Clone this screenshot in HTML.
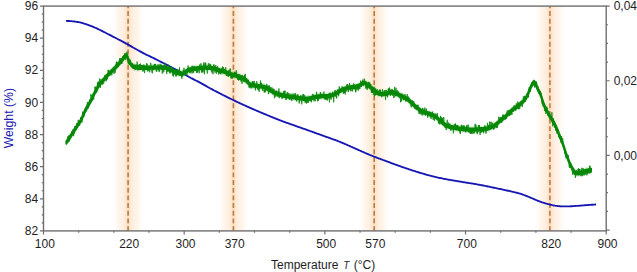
<!DOCTYPE html><html><head><meta charset="utf-8"><style>html,body{margin:0;padding:0;background:#fff;}svg{display:block;}text{font-family:"Liberation Sans",sans-serif;}</style></head><body>
<svg width="637" height="272" viewBox="0 0 637 272">
<defs><linearGradient id="band" x1="0" x2="1" y1="0" y2="0"><stop offset="0.0000" stop-color="#ffffff"/><stop offset="0.0667" stop-color="#fffcf9"/><stop offset="0.1333" stop-color="#fff9f3"/><stop offset="0.2167" stop-color="#fff4ea"/><stop offset="0.3167" stop-color="#fff0e2"/><stop offset="0.4000" stop-color="#feebd8"/><stop offset="0.4500" stop-color="#fde4c9"/><stop offset="0.5000" stop-color="#fddcb9"/><stop offset="0.5500" stop-color="#fde4c9"/><stop offset="0.6000" stop-color="#feebd8"/><stop offset="0.6833" stop-color="#fff0e2"/><stop offset="0.7833" stop-color="#fff4ea"/><stop offset="0.8667" stop-color="#fff9f3"/><stop offset="0.9333" stop-color="#fffcf9"/><stop offset="1.0000" stop-color="#ffffff"/></linearGradient><clipPath id="pc"><rect x="43.50" y="6.10" width="562.70" height="224.80"/></clipPath></defs>
<rect width="637" height="272" fill="#fff"/>
<rect x="113.10" y="6.10" width="30.00" height="224.80" fill="url(#band)"/>
<rect x="218.40" y="6.10" width="30.00" height="224.80" fill="url(#band)"/>
<rect x="359.20" y="6.10" width="30.00" height="224.80" fill="url(#band)"/>
<rect x="534.90" y="6.10" width="30.00" height="224.80" fill="url(#band)"/>
<line x1="128.10" y1="6.10" x2="128.10" y2="230.90" stroke="#b57d4a" stroke-width="1.6" stroke-dasharray="4.9 2.78" stroke-dashoffset="2.68"/>
<line x1="233.40" y1="6.10" x2="233.40" y2="230.90" stroke="#b57d4a" stroke-width="1.6" stroke-dasharray="4.9 2.78" stroke-dashoffset="2.68"/>
<line x1="374.20" y1="6.10" x2="374.20" y2="230.90" stroke="#b57d4a" stroke-width="1.6" stroke-dasharray="4.9 2.78" stroke-dashoffset="2.68"/>
<line x1="549.90" y1="6.10" x2="549.90" y2="230.90" stroke="#b57d4a" stroke-width="1.6" stroke-dasharray="4.9 2.78" stroke-dashoffset="2.68"/>
<path d="M66.00 20.90 66.70 20.93 67.67 20.96 68.83 21.00 70.13 21.08 71.50 21.20 72.40 21.30 73.38 21.41 74.41 21.53 75.48 21.66 76.56 21.82 77.66 21.99 78.74 22.18 79.80 22.40 80.84 22.64 81.88 22.91 82.92 23.21 83.96 23.52 84.99 23.85 86.03 24.19 87.07 24.54 88.10 24.90 89.13 25.27 90.15 25.65 91.18 26.04 92.20 26.45 93.22 26.87 94.25 27.30 95.27 27.74 96.30 28.20 97.22 28.62 98.14 29.05 99.06 29.50 99.98 29.96 100.91 30.42 101.83 30.89 102.75 31.36 103.68 31.83 104.60 32.30 105.52 32.77 106.45 33.24 107.37 33.72 108.29 34.20 109.22 34.68 110.14 35.17 111.06 35.65 111.98 36.13 112.90 36.60 113.82 37.07 114.76 37.55 115.70 38.03 116.64 38.51 117.57 38.98 118.49 39.45 119.39 39.91 120.26 40.36 121.10 40.80 122.12 41.34 123.08 41.85 124.00 42.35 124.91 42.85 125.81 43.35 126.73 43.86 127.70 44.40 128.56 44.89 129.41 45.38 130.27 45.88 131.14 46.39 132.03 46.91 132.97 47.45 133.95 48.01 135.00 48.60 135.82 49.05 136.69 49.54 137.61 50.04 138.56 50.56 139.53 51.09 140.51 51.62 141.47 52.14 142.42 52.65 143.33 53.13 144.19 53.58 145.00 54.00 146.15 54.57 147.18 55.07 148.15 55.51 149.07 55.93 150.00 56.35 150.96 56.80 152.00 57.30 152.85 57.72 153.71 58.16 154.59 58.60 155.47 59.06 156.38 59.53 157.30 60.01 158.25 60.50 159.21 60.99 160.20 61.50 161.03 61.92 161.88 62.35 162.74 62.79 163.62 63.24 164.51 63.69 165.41 64.15 166.32 64.61 167.24 65.08 168.16 65.55 169.08 66.02 170.00 66.50 170.93 66.98 171.87 67.47 172.81 67.96 173.77 68.46 174.73 68.97 175.69 69.47 176.65 69.98 177.61 70.49 178.55 70.99 179.48 71.50 180.40 72.00 181.30 72.50 182.19 73.01 183.07 73.51 183.93 74.02 184.80 74.52 185.65 75.03 186.51 75.53 187.37 76.03 188.24 76.52 189.12 77.02 190.00 77.50 190.89 77.98 191.79 78.44 192.70 78.91 193.61 79.36 194.52 79.82 195.43 80.27 196.35 80.73 197.26 81.18 198.18 81.65 199.09 82.12 200.00 82.60 200.91 83.09 201.82 83.59 202.73 84.10 203.64 84.61 204.55 85.13 205.45 85.65 206.36 86.16 207.27 86.68 208.18 87.19 209.09 87.70 210.00 88.20 210.89 88.69 211.75 89.15 212.59 89.61 213.43 90.06 214.26 90.51 215.12 90.97 216.00 91.43 216.91 91.91 217.88 92.41 218.90 92.94 220.00 93.50 220.80 93.91 221.64 94.33 222.50 94.76 223.40 95.21 224.32 95.67 225.26 96.14 226.22 96.62 227.19 97.10 228.17 97.58 229.16 98.07 230.14 98.55 231.13 99.04 232.12 99.51 233.09 99.98 234.05 100.45 235.00 100.90 235.94 101.35 236.88 101.79 237.81 102.23 238.75 102.67 239.69 103.11 240.62 103.55 241.56 103.98 242.50 104.41 243.44 104.84 244.38 105.27 245.31 105.70 246.25 106.12 247.19 106.54 248.12 106.96 249.06 107.38 250.00 107.80 250.94 108.21 251.88 108.63 252.81 109.04 253.75 109.44 254.69 109.85 255.62 110.25 256.56 110.65 257.50 111.05 258.44 111.45 259.38 111.84 260.31 112.24 261.25 112.63 262.19 113.03 263.12 113.42 264.06 113.81 265.00 114.20 265.94 114.59 266.88 114.98 267.81 115.37 268.75 115.76 269.69 116.15 270.62 116.54 271.56 116.93 272.50 117.31 273.44 117.70 274.38 118.08 275.31 118.46 276.25 118.83 277.19 119.20 278.12 119.57 279.06 119.94 280.00 120.30 281.00 120.68 282.00 121.06 283.00 121.43 284.00 121.79 285.00 122.16 286.00 122.52 287.00 122.87 288.00 123.23 289.00 123.58 290.00 123.93 291.00 124.29 292.00 124.64 293.00 124.99 294.00 125.34 295.00 125.70 296.00 126.06 297.00 126.41 298.00 126.76 299.00 127.12 300.00 127.47 301.00 127.82 302.00 128.17 303.00 128.53 304.00 128.88 305.00 129.23 306.00 129.58 307.00 129.94 308.00 130.29 309.00 130.64 310.00 131.00 311.00 131.36 312.00 131.71 313.00 132.07 314.00 132.43 315.00 132.79 316.00 133.15 317.00 133.51 318.00 133.87 319.00 134.23 320.00 134.59 321.00 134.95 322.00 135.31 323.00 135.67 324.00 136.04 325.00 136.40 326.00 136.76 327.00 137.12 328.00 137.48 329.00 137.83 330.00 138.19 331.00 138.54 332.00 138.90 333.00 139.26 334.00 139.62 335.00 139.99 336.00 140.36 337.00 140.73 338.00 141.12 339.00 141.50 340.00 141.90 340.94 142.28 341.88 142.66 342.81 143.06 343.75 143.45 344.69 143.85 345.62 144.26 346.56 144.67 347.50 145.08 348.44 145.50 349.38 145.91 350.31 146.33 351.25 146.74 352.19 147.16 353.12 147.58 354.06 147.99 355.00 148.40 355.94 148.81 356.88 149.23 357.81 149.64 358.75 150.06 359.69 150.49 360.62 150.91 361.56 151.33 362.50 151.75 363.44 152.17 364.38 152.59 365.31 153.00 366.25 153.41 367.19 153.82 368.12 154.22 369.06 154.61 370.00 155.00 370.94 155.38 371.88 155.76 372.81 156.13 373.75 156.49 374.69 156.85 375.62 157.21 376.56 157.57 377.50 157.92 378.44 158.27 379.38 158.62 380.31 158.96 381.25 159.31 382.19 159.66 383.12 160.00 384.06 160.35 385.00 160.70 386.01 161.08 387.04 161.46 388.08 161.85 389.13 162.24 390.19 162.63 391.24 163.02 392.29 163.40 393.33 163.78 394.36 164.16 395.37 164.53 396.36 164.89 397.32 165.24 398.25 165.57 399.15 165.89 400.00 166.20 401.20 166.63 402.32 167.02 403.37 167.38 404.36 167.72 405.31 168.04 406.24 168.36 407.16 168.66 408.08 168.97 409.02 169.28 410.00 169.60 411.00 169.93 412.00 170.26 413.00 170.59 414.00 170.91 415.00 171.24 416.00 171.56 417.00 171.88 418.00 172.19 419.00 172.50 420.00 172.80 421.00 173.10 422.00 173.39 423.00 173.68 424.00 173.97 425.00 174.25 426.00 174.53 427.00 174.80 428.00 175.07 429.00 175.34 430.00 175.60 431.00 175.86 432.00 176.11 433.00 176.37 434.00 176.61 435.00 176.86 436.00 177.10 437.00 177.33 438.00 177.56 439.00 177.78 440.00 178.00 441.00 178.21 442.00 178.42 443.00 178.61 444.00 178.81 445.00 178.99 446.00 179.18 447.00 179.36 448.00 179.54 449.00 179.72 450.00 179.90 451.00 180.08 452.00 180.25 453.00 180.43 454.00 180.60 455.00 180.77 456.00 180.94 457.00 181.10 458.00 181.27 459.00 181.43 460.00 181.60 461.00 181.76 462.00 181.92 463.00 182.08 464.00 182.24 465.00 182.40 466.00 182.56 467.00 182.72 468.00 182.88 469.00 183.04 470.00 183.20 471.00 183.36 472.00 183.53 473.00 183.69 474.00 183.86 475.00 184.02 476.00 184.19 477.00 184.36 478.00 184.54 479.00 184.72 480.00 184.90 481.00 185.09 482.00 185.28 483.00 185.47 484.00 185.67 485.00 185.88 486.00 186.08 487.00 186.28 488.00 186.49 489.00 186.69 490.00 186.90 491.00 187.11 492.00 187.31 493.00 187.52 494.00 187.73 495.00 187.94 496.00 188.15 497.00 188.36 498.00 188.57 499.00 188.79 500.00 189.00 501.00 189.22 502.00 189.43 503.00 189.65 504.00 189.86 505.00 190.08 506.00 190.30 507.00 190.52 508.00 190.75 509.00 190.97 510.00 191.20 511.00 191.43 512.00 191.64 513.00 191.86 514.00 192.08 515.00 192.30 516.00 192.53 517.00 192.77 518.00 193.03 519.00 193.30 520.00 193.60 521.00 193.92 522.00 194.26 523.00 194.62 524.00 195.00 525.00 195.39 526.00 195.78 527.00 196.19 528.00 196.59 529.00 197.00 530.00 197.40 531.00 197.81 532.00 198.23 533.00 198.67 534.00 199.11 535.00 199.55 536.00 199.99 537.00 200.42 538.00 200.83 539.00 201.23 540.00 201.60 541.02 201.96 542.06 202.31 543.13 202.64 544.19 202.97 545.25 203.29 546.29 203.59 547.29 203.87 548.26 204.13 549.16 204.38 550.00 204.60 551.22 204.91 552.26 205.16 553.19 205.35 554.07 205.51 554.99 205.66 556.00 205.80 556.95 205.92 557.93 206.04 558.93 206.14 559.95 206.22 560.97 206.30 561.99 206.36 563.00 206.40 563.99 206.43 564.97 206.43 565.95 206.43 566.93 206.41 567.93 206.38 568.95 206.34 570.00 206.30 570.95 206.26 571.91 206.21 572.88 206.15 573.88 206.09 574.88 206.02 575.91 205.95 576.95 205.87 578.00 205.80 578.96 205.73 579.93 205.66 580.93 205.58 581.93 205.50 582.95 205.42 583.96 205.33 584.98 205.25 585.99 205.17 587.00 205.10 588.05 205.03 589.17 204.95 590.33 204.87 591.49 204.79 592.62 204.72 593.67 204.65 594.60 204.59 595.40 204.54 596.00 204.50" fill="none" stroke="#1616b2" stroke-width="1.85" stroke-linejoin="round" stroke-linecap="butt"/>
<path d="M66.2 138.7 66.7 138.1 67.2 137.5 67.7 136.9 68.2 136.2 68.7 135.5 69.2 134.7 69.7 133.9 70.2 133.1 70.7 132.3 71.2 131.5 71.7 130.7 72.2 129.9 72.7 129.2 73.2 128.4 73.7 127.6 74.2 126.8 74.7 126.0 75.2 125.3 75.7 124.5 76.2 123.8 76.7 123.0 77.2 122.3 77.7 121.5 78.2 120.7 78.7 120.0 79.2 119.3 79.7 118.5 80.2 117.7 80.7 116.9 81.2 116.0 81.7 115.0 82.2 113.9 82.7 112.6 83.2 111.4 83.7 110.2 84.2 109.0 84.7 107.7 85.2 106.6 85.7 105.6 86.2 104.8 86.7 103.9 87.2 103.1 87.7 102.3 88.2 101.5 88.7 100.7 89.2 99.9 89.7 99.0 90.2 98.2 90.7 97.3 91.2 96.4 91.7 95.4 92.2 94.2 92.7 93.0 93.2 91.8 93.7 90.8 94.2 89.9 94.7 89.0 95.2 88.1 95.7 87.3 96.2 86.4 96.7 85.5 97.2 84.5 97.7 83.5 98.2 82.6 98.7 81.8 99.2 81.1 99.7 80.4 100.2 79.8 100.7 79.2 101.2 78.6 101.7 78.1 102.2 77.5 102.7 77.0 103.2 76.4 103.7 75.9 104.2 75.3 104.7 74.7 105.2 74.1 105.7 73.5 106.2 73.0 106.7 72.4 107.2 71.8 107.7 71.3 108.2 70.8 108.7 70.3 109.2 69.8 109.7 69.3 110.2 68.8 110.7 68.3 111.2 67.8 111.7 67.3 112.2 66.8 112.7 66.3 113.2 65.8 113.7 65.3 114.2 64.8 114.7 64.4 115.2 63.9 115.7 63.4 116.2 62.9 116.7 62.4 117.2 61.9 117.7 61.4 118.2 60.9 118.7 60.3 119.2 59.8 119.7 59.2 120.2 58.6 120.7 58.0 121.2 57.4 121.7 56.8 122.2 56.2 122.7 55.5 123.2 54.9 123.7 54.2 124.2 53.6 124.7 52.9 125.2 52.2 125.7 51.7 126.2 51.5 126.7 52.0 127.2 52.9 127.7 54.0 128.2 55.2 128.7 56.5 129.2 57.8 129.7 58.7 130.2 59.5 130.7 60.2 131.2 60.8 131.7 61.3 132.2 61.8 132.7 62.2 133.2 62.5 133.7 62.9 134.2 63.1 134.7 63.3 135.2 63.5 135.7 63.6 136.2 63.7 136.7 63.7 137.2 63.8 137.7 63.9 138.2 63.9 138.7 63.9 139.2 63.9 139.7 64.0 140.2 64.0 140.7 64.0 141.2 64.0 141.7 64.0 142.2 64.0 142.7 64.0 143.2 64.0 143.7 64.0 144.2 64.0 144.7 64.0 145.2 63.9 145.7 63.9 146.2 63.9 146.7 63.9 147.2 63.9 147.7 63.9 148.2 63.8 148.7 63.8 149.2 63.8 149.7 63.8 150.2 63.8 150.7 63.8 151.2 63.8 151.7 63.8 152.2 63.8 152.7 63.8 153.2 63.8 153.7 63.8 154.2 63.8 154.7 63.8 155.2 63.8 155.7 63.8 156.2 63.8 156.7 63.8 157.2 63.8 157.7 63.8 158.2 63.8 158.7 63.8 159.2 63.8 159.7 63.8 160.2 63.7 160.7 63.7 161.2 63.7 161.7 63.7 162.2 63.7 162.7 63.7 163.2 63.7 163.7 63.7 164.2 63.7 164.7 63.8 165.2 63.8 165.7 63.9 166.2 64.1 166.7 64.3 167.2 64.5 167.7 64.8 168.2 65.1 168.7 65.3 169.2 65.5 169.7 65.7 170.2 65.9 170.7 66.1 171.2 66.4 171.7 66.6 172.2 66.8 172.7 67.0 173.2 67.3 173.7 67.5 174.2 67.7 174.7 68.0 175.2 68.2 175.7 68.4 176.2 68.6 176.7 68.8 177.2 69.0 177.7 69.2 178.2 69.3 178.7 69.5 179.2 69.6 179.7 69.8 180.2 69.9 180.7 70.0 181.2 70.0 181.7 70.0 182.2 70.0 182.7 69.9 183.2 69.8 183.7 69.6 184.2 69.3 184.7 69.0 185.2 68.6 185.7 68.1 186.2 67.7 186.7 67.3 187.2 66.9 187.7 66.6 188.2 66.4 188.7 66.2 189.2 66.0 189.7 65.8 190.2 65.7 190.7 65.5 191.2 65.4 191.7 65.2 192.2 65.1 192.7 65.0 193.2 64.9 193.7 64.9 194.2 64.9 194.7 64.8 195.2 64.8 195.7 64.7 196.2 64.7 196.7 64.6 197.2 64.6 197.7 64.5 198.2 64.5 198.7 64.4 199.2 64.4 199.7 64.3 200.2 64.2 200.7 64.2 201.2 64.1 201.7 64.1 202.2 64.0 202.7 64.0 203.2 63.9 203.7 63.9 204.2 63.8 204.7 63.8 205.2 63.8 205.7 63.8 206.2 63.8 206.7 63.8 207.2 63.9 207.7 63.9 208.2 63.9 208.7 64.0 209.2 64.0 209.7 64.1 210.2 64.1 210.7 64.2 211.2 64.2 211.7 64.3 212.2 64.4 212.7 64.4 213.2 64.5 213.7 64.6 214.2 64.7 214.7 64.9 215.2 65.0 215.7 65.2 216.2 65.4 216.7 65.6 217.2 65.8 217.7 66.0 218.2 66.2 218.7 66.4 219.2 66.5 219.7 66.7 220.2 66.8 220.7 67.0 221.2 67.1 221.7 67.2 222.2 67.4 222.7 67.5 223.2 67.6 223.7 67.8 224.2 67.9 224.7 68.1 225.2 68.3 225.7 68.4 226.2 68.6 226.7 68.8 227.2 69.0 227.7 69.2 228.2 69.4 228.7 69.6 229.2 69.8 229.7 70.0 230.2 70.2 230.7 70.4 231.2 70.5 231.7 70.7 232.2 70.9 232.7 71.0 233.2 71.2 233.7 71.3 234.2 71.4 234.7 71.6 235.2 71.7 235.7 71.8 236.2 71.9 236.7 72.1 237.2 72.2 237.7 72.3 238.2 72.5 238.7 72.6 239.2 72.8 239.7 73.0 240.2 73.2 240.7 73.4 241.2 73.6 241.7 73.9 242.2 74.1 242.7 74.4 243.2 74.7 243.7 75.1 244.2 75.4 244.7 75.8 245.2 76.1 245.7 76.5 246.2 77.0 246.7 77.4 247.2 78.0 247.7 78.5 248.2 79.0 248.7 79.5 249.2 79.9 249.7 80.3 250.2 80.6 250.7 80.9 251.2 81.1 251.7 81.2 252.2 81.4 252.7 81.5 253.2 81.6 253.7 81.7 254.2 81.8 254.7 81.8 255.2 81.9 255.7 82.0 256.2 82.1 256.7 82.1 257.2 82.2 257.7 82.2 258.2 82.3 258.7 82.3 259.2 82.4 259.7 82.5 260.2 82.5 260.7 82.6 261.2 82.7 261.7 82.7 262.2 82.8 262.7 82.9 263.2 83.0 263.7 83.1 264.2 83.2 264.7 83.4 265.2 83.6 265.7 83.8 266.2 84.1 266.7 84.4 267.2 84.7 267.7 85.0 268.2 85.4 268.7 85.7 269.2 86.0 269.7 86.3 270.2 86.6 270.7 86.9 271.2 87.1 271.7 87.4 272.2 87.6 272.7 87.9 273.2 88.1 273.7 88.3 274.2 88.6 274.7 88.8 275.2 89.0 275.7 89.2 276.2 89.4 276.7 89.6 277.2 89.8 277.7 90.0 278.2 90.2 278.7 90.4 279.2 90.6 279.7 90.7 280.2 90.9 280.7 91.0 281.2 91.1 281.7 91.3 282.2 91.4 282.7 91.5 283.2 91.7 283.7 91.8 284.2 91.9 284.7 92.0 285.2 92.1 285.7 92.2 286.2 92.3 286.7 92.4 287.2 92.5 287.7 92.6 288.2 92.7 288.7 92.8 289.2 92.9 289.7 93.0 290.2 93.0 290.7 93.1 291.2 93.2 291.7 93.2 292.2 93.3 292.7 93.3 293.2 93.4 293.7 93.4 294.2 93.5 294.7 93.6 295.2 93.6 295.7 93.7 296.2 93.8 296.7 93.9 297.2 94.0 297.7 94.0 298.2 94.1 298.7 94.2 299.2 94.3 299.7 94.4 300.2 94.5 300.7 94.6 301.2 94.6 301.7 94.7 302.2 94.8 302.7 94.8 303.2 94.9 303.7 95.0 304.2 95.0 304.7 95.0 305.2 95.0 305.7 95.0 306.2 95.0 306.7 94.9 307.2 94.9 307.7 94.8 308.2 94.8 308.7 94.7 309.2 94.6 309.7 94.6 310.2 94.5 310.7 94.4 311.2 94.2 311.7 94.1 312.2 94.0 312.7 93.8 313.2 93.7 313.7 93.5 314.2 93.4 314.7 93.3 315.2 93.2 315.7 93.1 316.2 93.0 316.7 92.9 317.2 92.8 317.7 92.8 318.2 92.7 318.7 92.6 319.2 92.6 319.7 92.5 320.2 92.5 320.7 92.4 321.2 92.4 321.7 92.4 322.2 92.3 322.7 92.3 323.2 92.3 323.7 92.3 324.2 92.3 324.7 92.3 325.2 92.3 325.7 92.4 326.2 92.4 326.7 92.4 327.2 92.4 327.7 92.4 328.2 92.4 328.7 92.4 329.2 92.3 329.7 92.2 330.2 92.1 330.7 92.0 331.2 91.8 331.7 91.6 332.2 91.4 332.7 91.2 333.2 91.0 333.7 90.8 334.2 90.5 334.7 90.2 335.2 90.0 335.7 89.7 336.2 89.4 336.7 89.1 337.2 88.8 337.7 88.5 338.2 88.2 338.7 87.9 339.2 87.6 339.7 87.3 340.2 87.0 340.7 86.7 341.2 86.4 341.7 86.2 342.2 85.9 342.7 85.7 343.2 85.5 343.7 85.4 344.2 85.2 344.7 85.0 345.2 84.8 345.7 84.7 346.2 84.5 346.7 84.4 347.2 84.3 347.7 84.1 348.2 84.0 348.7 83.9 349.2 83.8 349.7 83.7 350.2 83.7 350.7 83.6 351.2 83.6 351.7 83.5 352.2 83.5 352.7 83.5 353.2 83.4 353.7 83.4 354.2 83.3 354.7 83.2 355.2 83.1 355.7 83.0 356.2 82.9 356.7 82.7 357.2 82.5 357.7 82.4 358.2 82.2 358.7 82.0 359.2 81.7 359.7 81.5 360.2 81.2 360.7 80.9 361.2 80.5 361.7 80.2 362.2 79.9 362.7 79.6 363.2 79.4 363.7 79.2 364.2 79.1 364.7 79.1 365.2 79.2 365.7 79.5 366.2 79.8 366.7 80.2 367.2 80.6 367.7 81.0 368.2 81.5 368.7 81.9 369.2 82.4 369.7 82.8 370.2 83.3 370.7 83.7 371.2 84.0 371.7 84.4 372.2 84.8 372.7 85.2 373.2 85.6 373.7 85.9 374.2 86.3 374.7 86.7 375.2 87.1 375.7 87.6 376.2 88.0 376.7 88.5 377.2 88.9 377.7 89.2 378.2 89.5 378.7 89.7 379.2 89.8 379.7 89.9 380.2 90.0 380.7 90.1 381.2 90.1 381.7 90.2 382.2 90.2 382.7 90.2 383.2 90.2 383.7 90.2 384.2 90.2 384.7 90.1 385.2 90.1 385.7 90.0 386.2 89.9 386.7 89.7 387.2 89.6 387.7 89.4 388.2 89.2 388.7 89.0 389.2 88.8 389.7 88.6 390.2 88.5 390.7 88.4 391.2 88.3 391.7 88.3 392.2 88.3 392.7 88.4 393.2 88.6 393.7 88.7 394.2 88.9 394.7 89.1 395.2 89.3 395.7 89.5 396.2 89.8 396.7 90.0 397.2 90.3 397.7 90.5 398.2 90.7 398.7 90.9 399.2 91.1 399.7 91.4 400.2 91.6 400.7 91.8 401.2 92.1 401.7 92.3 402.2 92.6 402.7 92.8 403.2 93.1 403.7 93.4 404.2 93.7 404.7 93.9 405.2 94.2 405.7 94.5 406.2 94.8 406.7 95.1 407.2 95.4 407.7 95.8 408.2 96.2 408.7 96.6 409.2 97.0 409.7 97.5 410.2 98.0 410.7 98.5 411.2 99.0 411.7 99.4 412.2 99.9 412.7 100.3 413.2 100.7 413.7 101.2 414.2 101.6 414.7 102.0 415.2 102.4 415.7 102.8 416.2 103.2 416.7 103.6 417.2 104.0 417.7 104.4 418.2 104.8 418.7 105.2 419.2 105.6 419.7 106.0 420.2 106.4 420.7 106.7 421.2 107.1 421.7 107.4 422.2 107.7 422.7 107.9 423.2 108.2 423.7 108.4 424.2 108.6 424.7 108.7 425.2 108.9 425.7 109.0 426.2 109.1 426.7 109.2 427.2 109.3 427.7 109.4 428.2 109.6 428.7 109.7 429.2 109.8 429.7 110.0 430.2 110.2 430.7 110.4 431.2 110.6 431.7 110.8 432.2 111.1 432.7 111.3 433.2 111.6 433.7 111.8 434.2 112.1 434.7 112.4 435.2 112.7 435.7 113.0 436.2 113.3 436.7 113.7 437.2 114.1 437.7 114.6 438.2 115.1 438.7 115.6 439.2 116.1 439.7 116.5 440.2 117.0 440.7 117.4 441.2 117.9 441.7 118.3 442.2 118.8 442.7 119.2 443.2 119.6 443.7 120.0 444.2 120.4 444.7 120.7 445.2 121.0 445.7 121.3 446.2 121.6 446.7 121.8 447.2 122.1 447.7 122.3 448.2 122.5 448.7 122.7 449.2 122.8 449.7 123.0 450.2 123.1 450.7 123.3 451.2 123.4 451.7 123.5 452.2 123.6 452.7 123.7 453.2 123.8 453.7 123.9 454.2 124.0 454.7 124.1 455.2 124.2 455.7 124.3 456.2 124.4 456.7 124.5 457.2 124.5 457.7 124.6 458.2 124.7 458.7 124.8 459.2 124.8 459.7 124.9 460.2 125.0 460.7 125.1 461.2 125.1 461.7 125.2 462.2 125.2 462.7 125.3 463.2 125.4 463.7 125.4 464.2 125.5 464.7 125.5 465.2 125.5 465.7 125.6 466.2 125.6 466.7 125.6 467.2 125.7 467.7 125.7 468.2 125.7 468.7 125.7 469.2 125.7 469.7 125.8 470.2 125.8 470.7 125.8 471.2 125.8 471.7 125.8 472.2 125.8 472.7 125.8 473.2 125.8 473.7 125.8 474.2 125.8 474.7 125.8 475.2 125.8 475.7 125.8 476.2 125.8 476.7 125.7 477.2 125.7 477.7 125.7 478.2 125.7 478.7 125.6 479.2 125.6 479.7 125.6 480.2 125.5 480.7 125.5 481.2 125.5 481.7 125.5 482.2 125.4 482.7 125.4 483.2 125.4 483.7 125.4 484.2 125.3 484.7 125.3 485.2 125.2 485.7 125.2 486.2 125.1 486.7 125.0 487.2 124.9 487.7 124.7 488.2 124.6 488.7 124.4 489.2 124.3 489.7 124.1 490.2 123.8 490.7 123.6 491.2 123.4 491.7 123.1 492.2 122.9 492.7 122.6 493.2 122.3 493.7 122.0 494.2 121.7 494.7 121.4 495.2 121.0 495.7 120.7 496.2 120.3 496.7 119.9 497.2 119.5 497.7 119.1 498.2 118.7 498.7 118.2 499.2 117.8 499.7 117.4 500.2 116.9 500.7 116.5 501.2 116.1 501.7 115.7 502.2 115.3 502.7 115.0 503.2 114.6 503.7 114.2 504.2 113.8 504.7 113.4 505.2 112.9 505.7 112.5 506.2 112.0 506.7 111.6 507.2 111.1 507.7 110.6 508.2 110.0 508.7 109.5 509.2 109.0 509.7 108.5 510.2 108.0 510.7 107.5 511.2 107.0 511.7 106.6 512.2 106.1 512.7 105.8 513.2 105.4 513.7 105.1 514.2 104.7 514.7 104.4 515.2 104.1 515.7 103.8 516.2 103.5 516.7 103.2 517.2 102.8 517.7 102.5 518.2 102.1 518.7 101.7 519.2 101.3 519.7 100.8 520.2 100.4 520.7 99.9 521.2 99.5 521.7 99.0 522.2 98.5 522.7 98.1 523.2 97.6 523.7 97.0 524.2 96.5 524.7 95.9 525.2 95.2 525.7 94.5 526.2 93.7 526.7 92.8 527.2 91.8 527.7 90.7 528.2 89.5 528.7 88.2 529.2 86.9 529.7 85.7 530.2 84.5 530.7 83.5 531.2 82.5 531.7 81.5 532.2 80.6 532.7 79.8 533.2 79.0 533.7 78.5 534.2 78.5 534.7 79.0 535.2 79.7 535.7 80.6 536.2 81.6 536.7 82.7 537.2 83.9 537.7 85.0 538.2 86.1 538.7 87.1 539.2 88.0 539.7 89.0 540.2 90.0 540.7 91.2 541.2 92.6 541.7 94.1 542.2 95.8 542.7 97.3 543.2 98.8 543.7 100.2 544.2 101.4 544.7 102.6 545.2 103.6 545.7 104.6 546.2 105.6 546.7 106.6 547.2 107.5 547.7 108.5 548.2 109.4 548.7 110.3 549.2 111.2 549.7 112.1 550.2 112.9 550.7 113.8 551.2 114.6 551.7 115.4 552.2 116.2 552.7 117.0 553.2 117.8 553.7 118.7 554.2 119.5 554.7 120.4 555.2 121.4 555.7 122.4 556.2 123.5 556.7 124.7 557.2 125.9 557.7 127.1 558.2 128.4 558.7 129.7 559.2 131.0 559.7 132.2 560.2 133.4 560.7 134.7 561.2 135.9 561.7 137.2 562.2 138.5 562.7 139.8 563.2 141.2 563.7 142.6 564.2 144.2 564.7 145.7 565.2 147.3 565.7 148.9 566.2 150.4 566.7 151.7 567.2 153.1 567.7 154.4 568.2 155.7 568.7 156.9 569.2 158.1 569.7 159.4 570.2 160.5 570.7 161.6 571.2 162.7 571.7 163.6 572.2 164.4 572.7 165.2 573.2 166.0 573.7 166.8 574.2 167.5 574.7 168.1 575.2 168.6 575.7 169.0 576.2 169.3 576.7 169.5 577.2 169.6 577.7 169.6 578.2 169.6 578.7 169.5 579.2 169.4 579.7 169.3 580.2 169.1 580.7 169.0 581.2 168.8 581.7 168.6 582.2 168.4 582.7 168.2 583.2 168.0 583.7 167.8 584.2 167.7 584.7 167.5 585.2 167.4 585.7 167.2 586.2 167.1 586.7 167.0 587.2 166.9 587.7 166.8 588.2 166.7 588.7 166.5 589.2 166.4 589.7 166.3 590.2 166.3 590.7 166.2 591.2 166.1 591.2 173.7 590.7 173.8 590.2 173.9 589.7 173.9 589.2 174.0 588.7 174.1 588.2 174.3 587.7 174.4 587.2 174.5 586.7 174.6 586.2 174.7 585.7 174.8 585.2 175.0 584.7 175.1 584.2 175.3 583.7 175.4 583.2 175.6 582.7 175.8 582.2 176.0 581.7 176.2 581.2 176.4 580.7 176.6 580.2 176.7 579.7 176.9 579.2 177.0 578.7 177.1 578.2 177.2 577.7 177.2 577.2 177.2 576.7 177.1 576.2 176.9 575.7 176.6 575.2 176.2 574.7 175.7 574.2 175.1 573.7 174.4 573.2 173.6 572.7 172.8 572.2 172.0 571.7 171.2 571.2 170.3 570.7 169.2 570.2 168.1 569.7 167.0 569.2 165.7 568.7 164.5 568.2 163.3 567.7 162.0 567.2 160.7 566.7 159.3 566.2 158.0 565.7 156.5 565.2 154.9 564.7 153.3 564.2 151.8 563.7 150.2 563.2 148.8 562.7 147.4 562.2 146.1 561.7 144.8 561.2 143.5 560.7 142.3 560.2 141.0 559.7 139.8 559.2 138.6 558.7 137.3 558.2 136.0 557.7 134.7 557.2 133.5 556.7 132.3 556.2 131.1 555.7 130.0 555.2 129.0 554.7 128.0 554.2 127.1 553.7 126.3 553.2 125.4 552.7 124.6 552.2 123.8 551.7 123.0 551.2 122.2 550.7 121.4 550.2 120.5 549.7 119.7 549.2 118.8 548.7 117.9 548.2 117.0 547.7 116.1 547.2 115.1 546.7 114.2 546.2 113.2 545.7 112.2 545.2 111.2 544.7 110.2 544.2 109.0 543.7 107.8 543.2 106.4 542.7 104.9 542.2 103.4 541.7 101.7 541.2 100.2 540.7 98.8 540.2 97.6 539.7 96.6 539.2 95.6 538.7 94.7 538.2 93.7 537.7 92.6 537.2 91.5 536.7 90.3 536.2 89.2 535.7 88.2 535.2 87.3 534.7 86.6 534.2 86.1 533.7 86.1 533.2 86.6 532.7 87.4 532.2 88.2 531.7 89.1 531.2 90.1 530.7 91.1 530.2 92.1 529.7 93.3 529.2 94.5 528.7 95.8 528.2 97.1 527.7 98.3 527.2 99.4 526.7 100.4 526.2 101.3 525.7 102.1 525.2 102.8 524.7 103.5 524.2 104.1 523.7 104.6 523.2 105.2 522.7 105.7 522.2 106.1 521.7 106.6 521.2 107.1 520.7 107.5 520.2 108.0 519.7 108.4 519.2 108.9 518.7 109.3 518.2 109.7 517.7 110.1 517.2 110.4 516.7 110.8 516.2 111.1 515.7 111.4 515.2 111.7 514.7 112.0 514.2 112.3 513.7 112.7 513.2 113.0 512.7 113.4 512.2 113.7 511.7 114.2 511.2 114.6 510.7 115.1 510.2 115.6 509.7 116.1 509.2 116.6 508.7 117.1 508.2 117.6 507.7 118.2 507.2 118.7 506.7 119.2 506.2 119.6 505.7 120.1 505.2 120.5 504.7 121.0 504.2 121.4 503.7 121.8 503.2 122.2 502.7 122.6 502.2 122.9 501.7 123.3 501.2 123.7 500.7 124.1 500.2 124.5 499.7 125.0 499.2 125.4 498.7 125.8 498.2 126.3 497.7 126.7 497.2 127.1 496.7 127.5 496.2 127.9 495.7 128.3 495.2 128.6 494.7 129.0 494.2 129.3 493.7 129.6 493.2 129.9 492.7 130.2 492.2 130.5 491.7 130.7 491.2 131.0 490.7 131.2 490.2 131.4 489.7 131.7 489.2 131.9 488.7 132.0 488.2 132.2 487.7 132.3 487.2 132.5 486.7 132.6 486.2 132.7 485.7 132.8 485.2 132.8 484.7 132.9 484.2 132.9 483.7 133.0 483.2 133.0 482.7 133.0 482.2 133.0 481.7 133.1 481.2 133.1 480.7 133.1 480.2 133.1 479.7 133.2 479.2 133.2 478.7 133.2 478.2 133.3 477.7 133.3 477.2 133.3 476.7 133.3 476.2 133.4 475.7 133.4 475.2 133.4 474.7 133.4 474.2 133.4 473.7 133.4 473.2 133.4 472.7 133.4 472.2 133.4 471.7 133.4 471.2 133.4 470.7 133.4 470.2 133.4 469.7 133.4 469.2 133.3 468.7 133.3 468.2 133.3 467.7 133.3 467.2 133.3 466.7 133.2 466.2 133.2 465.7 133.2 465.2 133.1 464.7 133.1 464.2 133.1 463.7 133.0 463.2 133.0 462.7 132.9 462.2 132.8 461.7 132.8 461.2 132.7 460.7 132.7 460.2 132.6 459.7 132.5 459.2 132.4 458.7 132.4 458.2 132.3 457.7 132.2 457.2 132.1 456.7 132.1 456.2 132.0 455.7 131.9 455.2 131.8 454.7 131.7 454.2 131.6 453.7 131.5 453.2 131.4 452.7 131.3 452.2 131.2 451.7 131.1 451.2 131.0 450.7 130.9 450.2 130.7 449.7 130.6 449.2 130.4 448.7 130.3 448.2 130.1 447.7 129.9 447.2 129.7 446.7 129.4 446.2 129.2 445.7 128.9 445.2 128.6 444.7 128.3 444.2 128.0 443.7 127.6 443.2 127.2 442.7 126.8 442.2 126.4 441.7 125.9 441.2 125.5 440.7 125.0 440.2 124.6 439.7 124.1 439.2 123.7 438.7 123.2 438.2 122.7 437.7 122.2 437.2 121.7 436.7 121.3 436.2 120.9 435.7 120.6 435.2 120.3 434.7 120.0 434.2 119.7 433.7 119.4 433.2 119.2 432.7 118.9 432.2 118.7 431.7 118.4 431.2 118.2 430.7 118.0 430.2 117.8 429.7 117.6 429.2 117.4 428.7 117.3 428.2 117.2 427.7 117.0 427.2 116.9 426.7 116.8 426.2 116.7 425.7 116.6 425.2 116.5 424.7 116.3 424.2 116.2 423.7 116.0 423.2 115.8 422.7 115.5 422.2 115.3 421.7 115.0 421.2 114.7 420.7 114.3 420.2 114.0 419.7 113.6 419.2 113.2 418.7 112.8 418.2 112.4 417.7 112.0 417.2 111.6 416.7 111.2 416.2 110.8 415.7 110.4 415.2 110.0 414.7 109.6 414.2 109.2 413.7 108.8 413.2 108.3 412.7 107.9 412.2 107.5 411.7 107.0 411.2 106.6 410.7 106.1 410.2 105.6 409.7 105.1 409.2 104.6 408.7 104.2 408.2 103.8 407.7 103.4 407.2 103.0 406.7 102.7 406.2 102.4 405.7 102.1 405.2 101.8 404.7 101.5 404.2 101.3 403.7 101.0 403.2 100.7 402.7 100.4 402.2 100.2 401.7 99.9 401.2 99.7 400.7 99.4 400.2 99.2 399.7 99.0 399.2 98.7 398.7 98.5 398.2 98.3 397.7 98.1 397.2 97.9 396.7 97.6 396.2 97.4 395.7 97.1 395.2 96.9 394.7 96.7 394.2 96.5 393.7 96.3 393.2 96.2 392.7 96.0 392.2 95.9 391.7 95.9 391.2 95.9 390.7 96.0 390.2 96.1 389.7 96.2 389.2 96.4 388.7 96.6 388.2 96.8 387.7 97.0 387.2 97.2 386.7 97.3 386.2 97.5 385.7 97.6 385.2 97.7 384.7 97.7 384.2 97.8 383.7 97.8 383.2 97.8 382.7 97.8 382.2 97.8 381.7 97.8 381.2 97.7 380.7 97.7 380.2 97.6 379.7 97.5 379.2 97.4 378.7 97.3 378.2 97.1 377.7 96.8 377.2 96.5 376.7 96.1 376.2 95.6 375.7 95.2 375.2 94.7 374.7 94.3 374.2 93.9 373.7 93.5 373.2 93.2 372.7 92.8 372.2 92.4 371.7 92.0 371.2 91.6 370.7 91.3 370.2 90.9 369.7 90.4 369.2 90.0 368.7 89.5 368.2 89.1 367.7 88.6 367.2 88.2 366.7 87.8 366.2 87.4 365.7 87.1 365.2 86.8 364.7 86.7 364.2 86.7 363.7 86.8 363.2 87.0 362.7 87.2 362.2 87.5 361.7 87.8 361.2 88.1 360.7 88.5 360.2 88.8 359.7 89.1 359.2 89.3 358.7 89.6 358.2 89.8 357.7 90.0 357.2 90.1 356.7 90.3 356.2 90.5 355.7 90.6 355.2 90.7 354.7 90.8 354.2 90.9 353.7 91.0 353.2 91.0 352.7 91.1 352.2 91.1 351.7 91.1 351.2 91.2 350.7 91.2 350.2 91.3 349.7 91.3 349.2 91.4 348.7 91.5 348.2 91.6 347.7 91.7 347.2 91.9 346.7 92.0 346.2 92.1 345.7 92.3 345.2 92.4 344.7 92.6 344.2 92.8 343.7 93.0 343.2 93.1 342.7 93.3 342.2 93.5 341.7 93.8 341.2 94.0 340.7 94.3 340.2 94.6 339.7 94.9 339.2 95.2 338.7 95.5 338.2 95.8 337.7 96.1 337.2 96.4 336.7 96.7 336.2 97.0 335.7 97.3 335.2 97.6 334.7 97.8 334.2 98.1 333.7 98.4 333.2 98.6 332.7 98.8 332.2 99.0 331.7 99.2 331.2 99.4 330.7 99.6 330.2 99.7 329.7 99.8 329.2 99.9 328.7 100.0 328.2 100.0 327.7 100.0 327.2 100.0 326.7 100.0 326.2 100.0 325.7 100.0 325.2 99.9 324.7 99.9 324.2 99.9 323.7 99.9 323.2 99.9 322.7 99.9 322.2 99.9 321.7 100.0 321.2 100.0 320.7 100.0 320.2 100.1 319.7 100.1 319.2 100.2 318.7 100.2 318.2 100.3 317.7 100.4 317.2 100.4 316.7 100.5 316.2 100.6 315.7 100.7 315.2 100.8 314.7 100.9 314.2 101.0 313.7 101.1 313.2 101.3 312.7 101.4 312.2 101.6 311.7 101.7 311.2 101.8 310.7 102.0 310.2 102.1 309.7 102.2 309.2 102.2 308.7 102.3 308.2 102.4 307.7 102.4 307.2 102.5 306.7 102.5 306.2 102.6 305.7 102.6 305.2 102.6 304.7 102.6 304.2 102.6 303.7 102.6 303.2 102.5 302.7 102.4 302.2 102.4 301.7 102.3 301.2 102.2 300.7 102.2 300.2 102.1 299.7 102.0 299.2 101.9 298.7 101.8 298.2 101.7 297.7 101.6 297.2 101.6 296.7 101.5 296.2 101.4 295.7 101.3 295.2 101.2 294.7 101.2 294.2 101.1 293.7 101.0 293.2 101.0 292.7 100.9 292.2 100.9 291.7 100.8 291.2 100.8 290.7 100.7 290.2 100.6 289.7 100.6 289.2 100.5 288.7 100.4 288.2 100.3 287.7 100.2 287.2 100.1 286.7 100.0 286.2 99.9 285.7 99.8 285.2 99.7 284.7 99.6 284.2 99.5 283.7 99.4 283.2 99.3 282.7 99.1 282.2 99.0 281.7 98.9 281.2 98.7 280.7 98.6 280.2 98.5 279.7 98.3 279.2 98.2 278.7 98.0 278.2 97.8 277.7 97.6 277.2 97.4 276.7 97.2 276.2 97.0 275.7 96.8 275.2 96.6 274.7 96.4 274.2 96.2 273.7 95.9 273.2 95.7 272.7 95.5 272.2 95.2 271.7 95.0 271.2 94.7 270.7 94.5 270.2 94.2 269.7 93.9 269.2 93.6 268.7 93.3 268.2 93.0 267.7 92.6 267.2 92.3 266.7 92.0 266.2 91.7 265.7 91.4 265.2 91.2 264.7 91.0 264.2 90.8 263.7 90.7 263.2 90.6 262.7 90.5 262.2 90.4 261.7 90.3 261.2 90.3 260.7 90.2 260.2 90.1 259.7 90.1 259.2 90.0 258.7 89.9 258.2 89.9 257.7 89.8 257.2 89.8 256.7 89.7 256.2 89.7 255.7 89.6 255.2 89.5 254.7 89.4 254.2 89.4 253.7 89.3 253.2 89.2 252.7 89.1 252.2 89.0 251.7 88.8 251.2 88.7 250.7 88.5 250.2 88.2 249.7 87.9 249.2 87.5 248.7 87.1 248.2 86.6 247.7 86.1 247.2 85.6 246.7 85.0 246.2 84.6 245.7 84.1 245.2 83.7 244.7 83.4 244.2 83.0 243.7 82.7 243.2 82.3 242.7 82.0 242.2 81.7 241.7 81.5 241.2 81.2 240.7 81.0 240.2 80.8 239.7 80.6 239.2 80.4 238.7 80.2 238.2 80.1 237.7 79.9 237.2 79.8 236.7 79.7 236.2 79.5 235.7 79.4 235.2 79.3 234.7 79.2 234.2 79.0 233.7 78.9 233.2 78.8 232.7 78.6 232.2 78.5 231.7 78.3 231.2 78.1 230.7 78.0 230.2 77.8 229.7 77.6 229.2 77.4 228.7 77.2 228.2 77.0 227.7 76.8 227.2 76.6 226.7 76.4 226.2 76.2 225.7 76.0 225.2 75.9 224.7 75.7 224.2 75.5 223.7 75.4 223.2 75.2 222.7 75.1 222.2 75.0 221.7 74.8 221.2 74.7 220.7 74.6 220.2 74.4 219.7 74.3 219.2 74.1 218.7 74.0 218.2 73.8 217.7 73.6 217.2 73.4 216.7 73.2 216.2 73.0 215.7 72.8 215.2 72.6 214.7 72.5 214.2 72.3 213.7 72.2 213.2 72.1 212.7 72.0 212.2 72.0 211.7 71.9 211.2 71.8 210.7 71.8 210.2 71.7 209.7 71.7 209.2 71.6 208.7 71.6 208.2 71.5 207.7 71.5 207.2 71.5 206.7 71.4 206.2 71.4 205.7 71.4 205.2 71.4 204.7 71.4 204.2 71.4 203.7 71.5 203.2 71.5 202.7 71.6 202.2 71.6 201.7 71.7 201.2 71.7 200.7 71.8 200.2 71.8 199.7 71.9 199.2 72.0 198.7 72.0 198.2 72.1 197.7 72.1 197.2 72.2 196.7 72.2 196.2 72.3 195.7 72.3 195.2 72.4 194.7 72.4 194.2 72.5 193.7 72.5 193.2 72.5 192.7 72.6 192.2 72.7 191.7 72.8 191.2 73.0 190.7 73.1 190.2 73.3 189.7 73.4 189.2 73.6 188.7 73.8 188.2 74.0 187.7 74.2 187.2 74.5 186.7 74.9 186.2 75.3 185.7 75.7 185.2 76.2 184.7 76.6 184.2 76.9 183.7 77.2 183.2 77.4 182.7 77.5 182.2 77.6 181.7 77.6 181.2 77.6 180.7 77.6 180.2 77.5 179.7 77.4 179.2 77.2 178.7 77.1 178.2 76.9 177.7 76.8 177.2 76.6 176.7 76.4 176.2 76.2 175.7 76.0 175.2 75.8 174.7 75.6 174.2 75.3 173.7 75.1 173.2 74.9 172.7 74.6 172.2 74.4 171.7 74.2 171.2 74.0 170.7 73.7 170.2 73.5 169.7 73.3 169.2 73.1 168.7 72.9 168.2 72.7 167.7 72.4 167.2 72.1 166.7 71.9 166.2 71.7 165.7 71.5 165.2 71.4 164.7 71.4 164.2 71.3 163.7 71.3 163.2 71.3 162.7 71.3 162.2 71.3 161.7 71.3 161.2 71.3 160.7 71.3 160.2 71.3 159.7 71.4 159.2 71.4 158.7 71.4 158.2 71.4 157.7 71.4 157.2 71.4 156.7 71.4 156.2 71.4 155.7 71.4 155.2 71.4 154.7 71.4 154.2 71.4 153.7 71.4 153.2 71.4 152.7 71.4 152.2 71.4 151.7 71.4 151.2 71.4 150.7 71.4 150.2 71.4 149.7 71.4 149.2 71.4 148.7 71.4 148.2 71.4 147.7 71.5 147.2 71.5 146.7 71.5 146.2 71.5 145.7 71.5 145.2 71.5 144.7 71.6 144.2 71.6 143.7 71.6 143.2 71.6 142.7 71.6 142.2 71.6 141.7 71.6 141.2 71.6 140.7 71.6 140.2 71.6 139.7 71.6 139.2 71.5 138.7 71.5 138.2 71.5 137.7 71.5 137.2 71.4 136.7 71.3 136.2 71.3 135.7 71.2 135.2 71.1 134.7 70.9 134.2 70.7 133.7 70.5 133.2 70.1 132.7 69.8 132.2 69.4 131.7 68.9 131.2 68.4 130.7 67.8 130.2 67.1 129.7 66.3 129.2 65.4 128.7 64.1 128.2 62.8 127.7 61.6 127.2 60.5 126.7 59.6 126.2 59.1 125.7 59.3 125.2 59.8 124.7 60.5 124.2 61.2 123.7 61.8 123.2 62.5 122.7 63.1 122.2 63.8 121.7 64.4 121.2 65.0 120.7 65.6 120.2 66.2 119.7 66.8 119.2 67.4 118.7 67.9 118.2 68.5 117.7 69.0 117.2 69.5 116.7 70.0 116.2 70.5 115.7 71.0 115.2 71.5 114.7 72.0 114.2 72.4 113.7 72.9 113.2 73.4 112.7 73.9 112.2 74.4 111.7 74.9 111.2 75.4 110.7 75.9 110.2 76.4 109.7 76.9 109.2 77.4 108.7 77.9 108.2 78.4 107.7 78.9 107.2 79.4 106.7 80.0 106.2 80.6 105.7 81.1 105.2 81.7 104.7 82.3 104.2 82.9 103.7 83.5 103.2 84.0 102.7 84.6 102.2 85.1 101.7 85.7 101.2 86.2 100.7 86.8 100.2 87.4 99.7 88.0 99.2 88.7 98.7 89.4 98.2 90.2 97.7 91.1 97.2 92.1 96.7 93.1 96.2 94.0 95.7 94.9 95.2 95.7 94.7 96.6 94.2 97.5 93.7 98.4 93.2 99.4 92.7 100.6 92.2 101.8 91.7 103.0 91.2 104.0 90.7 104.9 90.2 105.8 89.7 106.6 89.2 107.5 88.7 108.3 88.2 109.1 87.7 109.9 87.2 110.7 86.7 111.5 86.2 112.4 85.7 113.2 85.2 114.2 84.7 115.3 84.2 116.6 83.7 117.8 83.2 119.0 82.7 120.2 82.2 121.5 81.7 122.6 81.2 123.6 80.7 124.5 80.2 125.3 79.7 126.1 79.2 126.9 78.7 127.6 78.2 128.3 77.7 129.1 77.2 129.9 76.7 130.6 76.2 131.4 75.7 132.1 75.2 132.9 74.7 133.6 74.2 134.4 73.7 135.2 73.2 136.0 72.7 136.8 72.2 137.5 71.7 138.3 71.2 139.1 70.7 139.9 70.2 140.7 69.7 141.5 69.2 142.3 68.7 143.1 68.2 143.8 67.7 144.5 67.2 145.1 66.7 145.7 66.2 146.3Z" fill="#078807" fill-opacity="0.15"/>
<path d="M66.2 141.1 66.7 140.5 67.2 139.9 67.7 139.3 68.2 138.6 68.7 137.9 69.2 137.1 69.7 136.3 70.2 135.5 70.7 134.7 71.2 133.9 71.7 133.1 72.2 132.3 72.7 131.6 73.2 130.8 73.7 130.0 74.2 129.2 74.7 128.4 75.2 127.7 75.7 126.9 76.2 126.2 76.7 125.4 77.2 124.7 77.7 123.9 78.2 123.1 78.7 122.4 79.2 121.7 79.7 120.9 80.2 120.1 80.7 119.3 81.2 118.4 81.7 117.4 82.2 116.3 82.7 115.0 83.2 113.8 83.7 112.6 84.2 111.4 84.7 110.1 85.2 109.0 85.7 108.0 86.2 107.2 86.7 106.3 87.2 105.5 87.7 104.7 88.2 103.9 88.7 103.1 89.2 102.3 89.7 101.4 90.2 100.6 90.7 99.7 91.2 98.8 91.7 97.8 92.2 96.6 92.7 95.4 93.2 94.2 93.7 93.2 94.2 92.3 94.7 91.4 95.2 90.5 95.7 89.7 96.2 88.8 96.7 87.9 97.2 86.9 97.7 85.9 98.2 85.0 98.7 84.2 99.2 83.5 99.7 82.8 100.2 82.2 100.7 81.6 101.2 81.0 101.7 80.5 102.2 79.9 102.7 79.4 103.2 78.8 103.7 78.3 104.2 77.7 104.7 77.1 105.2 76.5 105.7 75.9 106.2 75.4 106.7 74.8 107.2 74.2 107.7 73.7 108.2 73.2 108.7 72.7 109.2 72.2 109.7 71.7 110.2 71.2 110.7 70.7 111.2 70.2 111.7 69.7 112.2 69.2 112.7 68.7 113.2 68.2 113.7 67.7 114.2 67.2 114.7 66.8 115.2 66.3 115.7 65.8 116.2 65.3 116.7 64.8 117.2 64.3 117.7 63.8 118.2 63.3 118.7 62.7 119.2 62.2 119.7 61.6 120.2 61.0 120.7 60.4 121.2 59.8 121.7 59.2 122.2 58.6 122.7 57.9 123.2 57.3 123.7 56.6 124.2 56.0 124.7 55.3 125.2 54.6 125.7 54.1 126.2 53.9 126.7 54.4 127.2 55.3 127.7 56.4 128.2 57.6 128.7 58.9 129.2 60.2 129.7 61.1 130.2 61.9 130.7 62.6 131.2 63.2 131.7 63.7 132.2 64.2 132.7 64.6 133.2 64.9 133.7 65.3 134.2 65.5 134.7 65.7 135.2 65.9 135.7 66.0 136.2 66.1 136.7 66.1 137.2 66.2 137.7 66.3 138.2 66.3 138.7 66.3 139.2 66.3 139.7 66.4 140.2 66.4 140.7 66.4 141.2 66.4 141.7 66.4 142.2 66.4 142.7 66.4 143.2 66.4 143.7 66.4 144.2 66.4 144.7 66.4 145.2 66.3 145.7 66.3 146.2 66.3 146.7 66.3 147.2 66.3 147.7 66.3 148.2 66.2 148.7 66.2 149.2 66.2 149.7 66.2 150.2 66.2 150.7 66.2 151.2 66.2 151.7 66.2 152.2 66.2 152.7 66.2 153.2 66.2 153.7 66.2 154.2 66.2 154.7 66.2 155.2 66.2 155.7 66.2 156.2 66.2 156.7 66.2 157.2 66.2 157.7 66.2 158.2 66.2 158.7 66.2 159.2 66.2 159.7 66.2 160.2 66.1 160.7 66.1 161.2 66.1 161.7 66.1 162.2 66.1 162.7 66.1 163.2 66.1 163.7 66.1 164.2 66.1 164.7 66.2 165.2 66.2 165.7 66.3 166.2 66.5 166.7 66.7 167.2 66.9 167.7 67.2 168.2 67.5 168.7 67.7 169.2 67.9 169.7 68.1 170.2 68.3 170.7 68.5 171.2 68.8 171.7 69.0 172.2 69.2 172.7 69.4 173.2 69.7 173.7 69.9 174.2 70.1 174.7 70.4 175.2 70.6 175.7 70.8 176.2 71.0 176.7 71.2 177.2 71.4 177.7 71.6 178.2 71.7 178.7 71.9 179.2 72.0 179.7 72.2 180.2 72.3 180.7 72.4 181.2 72.4 181.7 72.4 182.2 72.4 182.7 72.3 183.2 72.2 183.7 72.0 184.2 71.7 184.7 71.4 185.2 71.0 185.7 70.5 186.2 70.1 186.7 69.7 187.2 69.3 187.7 69.0 188.2 68.8 188.7 68.6 189.2 68.4 189.7 68.2 190.2 68.1 190.7 67.9 191.2 67.8 191.7 67.6 192.2 67.5 192.7 67.4 193.2 67.3 193.7 67.3 194.2 67.3 194.7 67.2 195.2 67.2 195.7 67.1 196.2 67.1 196.7 67.0 197.2 67.0 197.7 66.9 198.2 66.9 198.7 66.8 199.2 66.8 199.7 66.7 200.2 66.6 200.7 66.6 201.2 66.5 201.7 66.5 202.2 66.4 202.7 66.4 203.2 66.3 203.7 66.3 204.2 66.2 204.7 66.2 205.2 66.2 205.7 66.2 206.2 66.2 206.7 66.2 207.2 66.3 207.7 66.3 208.2 66.3 208.7 66.4 209.2 66.4 209.7 66.5 210.2 66.5 210.7 66.6 211.2 66.6 211.7 66.7 212.2 66.8 212.7 66.8 213.2 66.9 213.7 67.0 214.2 67.1 214.7 67.3 215.2 67.4 215.7 67.6 216.2 67.8 216.7 68.0 217.2 68.2 217.7 68.4 218.2 68.6 218.7 68.8 219.2 68.9 219.7 69.1 220.2 69.2 220.7 69.4 221.2 69.5 221.7 69.6 222.2 69.8 222.7 69.9 223.2 70.0 223.7 70.2 224.2 70.3 224.7 70.5 225.2 70.7 225.7 70.8 226.2 71.0 226.7 71.2 227.2 71.4 227.7 71.6 228.2 71.8 228.7 72.0 229.2 72.2 229.7 72.4 230.2 72.6 230.7 72.8 231.2 72.9 231.7 73.1 232.2 73.3 232.7 73.4 233.2 73.6 233.7 73.7 234.2 73.8 234.7 74.0 235.2 74.1 235.7 74.2 236.2 74.3 236.7 74.5 237.2 74.6 237.7 74.7 238.2 74.9 238.7 75.0 239.2 75.2 239.7 75.4 240.2 75.6 240.7 75.8 241.2 76.0 241.7 76.3 242.2 76.5 242.7 76.8 243.2 77.1 243.7 77.5 244.2 77.8 244.7 78.2 245.2 78.5 245.7 78.9 246.2 79.4 246.7 79.8 247.2 80.4 247.7 80.9 248.2 81.4 248.7 81.9 249.2 82.3 249.7 82.7 250.2 83.0 250.7 83.3 251.2 83.5 251.7 83.6 252.2 83.8 252.7 83.9 253.2 84.0 253.7 84.1 254.2 84.2 254.7 84.2 255.2 84.3 255.7 84.4 256.2 84.5 256.7 84.5 257.2 84.6 257.7 84.6 258.2 84.7 258.7 84.7 259.2 84.8 259.7 84.9 260.2 84.9 260.7 85.0 261.2 85.1 261.7 85.1 262.2 85.2 262.7 85.3 263.2 85.4 263.7 85.5 264.2 85.6 264.7 85.8 265.2 86.0 265.7 86.2 266.2 86.5 266.7 86.8 267.2 87.1 267.7 87.4 268.2 87.8 268.7 88.1 269.2 88.4 269.7 88.7 270.2 89.0 270.7 89.3 271.2 89.5 271.7 89.8 272.2 90.0 272.7 90.3 273.2 90.5 273.7 90.7 274.2 91.0 274.7 91.2 275.2 91.4 275.7 91.6 276.2 91.8 276.7 92.0 277.2 92.2 277.7 92.4 278.2 92.6 278.7 92.8 279.2 93.0 279.7 93.1 280.2 93.3 280.7 93.4 281.2 93.5 281.7 93.7 282.2 93.8 282.7 93.9 283.2 94.1 283.7 94.2 284.2 94.3 284.7 94.4 285.2 94.5 285.7 94.6 286.2 94.7 286.7 94.8 287.2 94.9 287.7 95.0 288.2 95.1 288.7 95.2 289.2 95.3 289.7 95.4 290.2 95.4 290.7 95.5 291.2 95.6 291.7 95.6 292.2 95.7 292.7 95.7 293.2 95.8 293.7 95.8 294.2 95.9 294.7 96.0 295.2 96.0 295.7 96.1 296.2 96.2 296.7 96.3 297.2 96.4 297.7 96.4 298.2 96.5 298.7 96.6 299.2 96.7 299.7 96.8 300.2 96.9 300.7 97.0 301.2 97.0 301.7 97.1 302.2 97.2 302.7 97.2 303.2 97.3 303.7 97.4 304.2 97.4 304.7 97.4 305.2 97.4 305.7 97.4 306.2 97.4 306.7 97.3 307.2 97.3 307.7 97.2 308.2 97.2 308.7 97.1 309.2 97.0 309.7 97.0 310.2 96.9 310.7 96.8 311.2 96.6 311.7 96.5 312.2 96.4 312.7 96.2 313.2 96.1 313.7 95.9 314.2 95.8 314.7 95.7 315.2 95.6 315.7 95.5 316.2 95.4 316.7 95.3 317.2 95.2 317.7 95.2 318.2 95.1 318.7 95.0 319.2 95.0 319.7 94.9 320.2 94.9 320.7 94.8 321.2 94.8 321.7 94.8 322.2 94.7 322.7 94.7 323.2 94.7 323.7 94.7 324.2 94.7 324.7 94.7 325.2 94.7 325.7 94.8 326.2 94.8 326.7 94.8 327.2 94.8 327.7 94.8 328.2 94.8 328.7 94.8 329.2 94.7 329.7 94.6 330.2 94.5 330.7 94.4 331.2 94.2 331.7 94.0 332.2 93.8 332.7 93.6 333.2 93.4 333.7 93.2 334.2 92.9 334.7 92.6 335.2 92.4 335.7 92.1 336.2 91.8 336.7 91.5 337.2 91.2 337.7 90.9 338.2 90.6 338.7 90.3 339.2 90.0 339.7 89.7 340.2 89.4 340.7 89.1 341.2 88.8 341.7 88.6 342.2 88.3 342.7 88.1 343.2 87.9 343.7 87.8 344.2 87.6 344.7 87.4 345.2 87.2 345.7 87.1 346.2 86.9 346.7 86.8 347.2 86.7 347.7 86.5 348.2 86.4 348.7 86.3 349.2 86.2 349.7 86.1 350.2 86.1 350.7 86.0 351.2 86.0 351.7 85.9 352.2 85.9 352.7 85.9 353.2 85.8 353.7 85.8 354.2 85.7 354.7 85.6 355.2 85.5 355.7 85.4 356.2 85.3 356.7 85.1 357.2 84.9 357.7 84.8 358.2 84.6 358.7 84.4 359.2 84.1 359.7 83.9 360.2 83.6 360.7 83.3 361.2 82.9 361.7 82.6 362.2 82.3 362.7 82.0 363.2 81.8 363.7 81.6 364.2 81.5 364.7 81.5 365.2 81.6 365.7 81.9 366.2 82.2 366.7 82.6 367.2 83.0 367.7 83.4 368.2 83.9 368.7 84.3 369.2 84.8 369.7 85.2 370.2 85.7 370.7 86.1 371.2 86.4 371.7 86.8 372.2 87.2 372.7 87.6 373.2 88.0 373.7 88.3 374.2 88.7 374.7 89.1 375.2 89.5 375.7 90.0 376.2 90.4 376.7 90.9 377.2 91.3 377.7 91.6 378.2 91.9 378.7 92.1 379.2 92.2 379.7 92.3 380.2 92.4 380.7 92.5 381.2 92.5 381.7 92.6 382.2 92.6 382.7 92.6 383.2 92.6 383.7 92.6 384.2 92.6 384.7 92.5 385.2 92.5 385.7 92.4 386.2 92.3 386.7 92.1 387.2 92.0 387.7 91.8 388.2 91.6 388.7 91.4 389.2 91.2 389.7 91.0 390.2 90.9 390.7 90.8 391.2 90.7 391.7 90.7 392.2 90.7 392.7 90.8 393.2 91.0 393.7 91.1 394.2 91.3 394.7 91.5 395.2 91.7 395.7 91.9 396.2 92.2 396.7 92.4 397.2 92.7 397.7 92.9 398.2 93.1 398.7 93.3 399.2 93.5 399.7 93.8 400.2 94.0 400.7 94.2 401.2 94.5 401.7 94.7 402.2 95.0 402.7 95.2 403.2 95.5 403.7 95.8 404.2 96.1 404.7 96.3 405.2 96.6 405.7 96.9 406.2 97.2 406.7 97.5 407.2 97.8 407.7 98.2 408.2 98.6 408.7 99.0 409.2 99.4 409.7 99.9 410.2 100.4 410.7 100.9 411.2 101.4 411.7 101.8 412.2 102.3 412.7 102.7 413.2 103.1 413.7 103.6 414.2 104.0 414.7 104.4 415.2 104.8 415.7 105.2 416.2 105.6 416.7 106.0 417.2 106.4 417.7 106.8 418.2 107.2 418.7 107.6 419.2 108.0 419.7 108.4 420.2 108.8 420.7 109.1 421.2 109.5 421.7 109.8 422.2 110.1 422.7 110.3 423.2 110.6 423.7 110.8 424.2 111.0 424.7 111.1 425.2 111.3 425.7 111.4 426.2 111.5 426.7 111.6 427.2 111.7 427.7 111.8 428.2 112.0 428.7 112.1 429.2 112.2 429.7 112.4 430.2 112.6 430.7 112.8 431.2 113.0 431.7 113.2 432.2 113.5 432.7 113.7 433.2 114.0 433.7 114.2 434.2 114.5 434.7 114.8 435.2 115.1 435.7 115.4 436.2 115.7 436.7 116.1 437.2 116.5 437.7 117.0 438.2 117.5 438.7 118.0 439.2 118.5 439.7 118.9 440.2 119.4 440.7 119.8 441.2 120.3 441.7 120.7 442.2 121.2 442.7 121.6 443.2 122.0 443.7 122.4 444.2 122.8 444.7 123.1 445.2 123.4 445.7 123.7 446.2 124.0 446.7 124.2 447.2 124.5 447.7 124.7 448.2 124.9 448.7 125.1 449.2 125.2 449.7 125.4 450.2 125.5 450.7 125.7 451.2 125.8 451.7 125.9 452.2 126.0 452.7 126.1 453.2 126.2 453.7 126.3 454.2 126.4 454.7 126.5 455.2 126.6 455.7 126.7 456.2 126.8 456.7 126.9 457.2 126.9 457.7 127.0 458.2 127.1 458.7 127.2 459.2 127.2 459.7 127.3 460.2 127.4 460.7 127.5 461.2 127.5 461.7 127.6 462.2 127.6 462.7 127.7 463.2 127.8 463.7 127.8 464.2 127.9 464.7 127.9 465.2 127.9 465.7 128.0 466.2 128.0 466.7 128.0 467.2 128.1 467.7 128.1 468.2 128.1 468.7 128.1 469.2 128.1 469.7 128.2 470.2 128.2 470.7 128.2 471.2 128.2 471.7 128.2 472.2 128.2 472.7 128.2 473.2 128.2 473.7 128.2 474.2 128.2 474.7 128.2 475.2 128.2 475.7 128.2 476.2 128.2 476.7 128.1 477.2 128.1 477.7 128.1 478.2 128.1 478.7 128.0 479.2 128.0 479.7 128.0 480.2 127.9 480.7 127.9 481.2 127.9 481.7 127.9 482.2 127.8 482.7 127.8 483.2 127.8 483.7 127.8 484.2 127.7 484.7 127.7 485.2 127.6 485.7 127.6 486.2 127.5 486.7 127.4 487.2 127.3 487.7 127.1 488.2 127.0 488.7 126.8 489.2 126.7 489.7 126.5 490.2 126.2 490.7 126.0 491.2 125.8 491.7 125.5 492.2 125.3 492.7 125.0 493.2 124.7 493.7 124.4 494.2 124.1 494.7 123.8 495.2 123.4 495.7 123.1 496.2 122.7 496.7 122.3 497.2 121.9 497.7 121.5 498.2 121.1 498.7 120.6 499.2 120.2 499.7 119.8 500.2 119.3 500.7 118.9 501.2 118.5 501.7 118.1 502.2 117.7 502.7 117.4 503.2 117.0 503.7 116.6 504.2 116.2 504.7 115.8 505.2 115.3 505.7 114.9 506.2 114.4 506.7 114.0 507.2 113.5 507.7 113.0 508.2 112.4 508.7 111.9 509.2 111.4 509.7 110.9 510.2 110.4 510.7 109.9 511.2 109.4 511.7 109.0 512.2 108.5 512.7 108.2 513.2 107.8 513.7 107.5 514.2 107.1 514.7 106.8 515.2 106.5 515.7 106.2 516.2 105.9 516.7 105.6 517.2 105.2 517.7 104.9 518.2 104.5 518.7 104.1 519.2 103.7 519.7 103.2 520.2 102.8 520.7 102.3 521.2 101.9 521.7 101.4 522.2 100.9 522.7 100.5 523.2 100.0 523.7 99.4 524.2 98.9 524.7 98.3 525.2 97.6 525.7 96.9 526.2 96.1 526.7 95.2 527.2 94.2 527.7 93.1 528.2 91.9 528.7 90.6 529.2 89.3 529.7 88.1 530.2 86.9 530.7 85.9 531.2 84.9 531.7 83.9 532.2 83.0 532.7 82.2 533.2 81.4 533.7 80.9 534.2 80.9 534.7 81.4 535.2 82.1 535.7 83.0 536.2 84.0 536.7 85.1 537.2 86.3 537.7 87.4 538.2 88.5 538.7 89.5 539.2 90.4 539.7 91.4 540.2 92.4 540.7 93.6 541.2 95.0 541.7 96.5 542.2 98.2 542.7 99.7 543.2 101.2 543.7 102.6 544.2 103.8 544.7 105.0 545.2 106.0 545.7 107.0 546.2 108.0 546.7 109.0 547.2 109.9 547.7 110.9 548.2 111.8 548.7 112.7 549.2 113.6 549.7 114.5 550.2 115.3 550.7 116.2 551.2 117.0 551.7 117.8 552.2 118.6 552.7 119.4 553.2 120.2 553.7 121.1 554.2 121.9 554.7 122.8 555.2 123.8 555.7 124.8 556.2 125.9 556.7 127.1 557.2 128.3 557.7 129.5 558.2 130.8 558.7 132.1 559.2 133.4 559.7 134.6 560.2 135.8 560.7 137.1 561.2 138.3 561.7 139.6 562.2 140.9 562.7 142.2 563.2 143.6 563.7 145.0 564.2 146.6 564.7 148.1 565.2 149.7 565.7 151.3 566.2 152.8 566.7 154.1 567.2 155.5 567.7 156.8 568.2 158.1 568.7 159.3 569.2 160.5 569.7 161.8 570.2 162.9 570.7 164.0 571.2 165.1 571.7 166.0 572.2 166.8 572.7 167.6 573.2 168.4 573.7 169.2 574.2 169.9 574.7 170.5 575.2 171.0 575.7 171.4 576.2 171.7 576.7 171.9 577.2 172.0 577.7 172.0 578.2 172.0 578.7 171.9 579.2 171.8 579.7 171.7 580.2 171.5 580.7 171.4 581.2 171.2 581.7 171.0 582.2 170.8 582.7 170.6 583.2 170.4 583.7 170.2 584.2 170.1 584.7 169.9 585.2 169.8 585.7 169.6 586.2 169.5 586.7 169.4 587.2 169.3 587.7 169.2 588.2 169.1 588.7 168.9 589.2 168.8 589.7 168.7 590.2 168.7 590.7 168.6 591.2 168.5 591.2 171.3 590.7 171.4 590.2 171.5 589.7 171.5 589.2 171.6 588.7 171.7 588.2 171.9 587.7 172.0 587.2 172.1 586.7 172.2 586.2 172.3 585.7 172.4 585.2 172.6 584.7 172.7 584.2 172.9 583.7 173.0 583.2 173.2 582.7 173.4 582.2 173.6 581.7 173.8 581.2 174.0 580.7 174.2 580.2 174.3 579.7 174.5 579.2 174.6 578.7 174.7 578.2 174.8 577.7 174.8 577.2 174.8 576.7 174.7 576.2 174.5 575.7 174.2 575.2 173.8 574.7 173.3 574.2 172.7 573.7 172.0 573.2 171.2 572.7 170.4 572.2 169.6 571.7 168.8 571.2 167.9 570.7 166.8 570.2 165.7 569.7 164.6 569.2 163.3 568.7 162.1 568.2 160.9 567.7 159.6 567.2 158.3 566.7 156.9 566.2 155.6 565.7 154.1 565.2 152.5 564.7 150.9 564.2 149.4 563.7 147.8 563.2 146.4 562.7 145.0 562.2 143.7 561.7 142.4 561.2 141.1 560.7 139.9 560.2 138.6 559.7 137.4 559.2 136.2 558.7 134.9 558.2 133.6 557.7 132.3 557.2 131.1 556.7 129.9 556.2 128.7 555.7 127.6 555.2 126.6 554.7 125.6 554.2 124.7 553.7 123.9 553.2 123.0 552.7 122.2 552.2 121.4 551.7 120.6 551.2 119.8 550.7 119.0 550.2 118.1 549.7 117.3 549.2 116.4 548.7 115.5 548.2 114.6 547.7 113.7 547.2 112.7 546.7 111.8 546.2 110.8 545.7 109.8 545.2 108.8 544.7 107.8 544.2 106.6 543.7 105.4 543.2 104.0 542.7 102.5 542.2 101.0 541.7 99.3 541.2 97.8 540.7 96.4 540.2 95.2 539.7 94.2 539.2 93.2 538.7 92.3 538.2 91.3 537.7 90.2 537.2 89.1 536.7 87.9 536.2 86.8 535.7 85.8 535.2 84.9 534.7 84.2 534.2 83.7 533.7 83.7 533.2 84.2 532.7 85.0 532.2 85.8 531.7 86.7 531.2 87.7 530.7 88.7 530.2 89.7 529.7 90.9 529.2 92.1 528.7 93.4 528.2 94.7 527.7 95.9 527.2 97.0 526.7 98.0 526.2 98.9 525.7 99.7 525.2 100.4 524.7 101.1 524.2 101.7 523.7 102.2 523.2 102.8 522.7 103.3 522.2 103.7 521.7 104.2 521.2 104.7 520.7 105.1 520.2 105.6 519.7 106.0 519.2 106.5 518.7 106.9 518.2 107.3 517.7 107.7 517.2 108.0 516.7 108.4 516.2 108.7 515.7 109.0 515.2 109.3 514.7 109.6 514.2 109.9 513.7 110.3 513.2 110.6 512.7 111.0 512.2 111.3 511.7 111.8 511.2 112.2 510.7 112.7 510.2 113.2 509.7 113.7 509.2 114.2 508.7 114.7 508.2 115.2 507.7 115.8 507.2 116.3 506.7 116.8 506.2 117.2 505.7 117.7 505.2 118.1 504.7 118.6 504.2 119.0 503.7 119.4 503.2 119.8 502.7 120.2 502.2 120.5 501.7 120.9 501.2 121.3 500.7 121.7 500.2 122.1 499.7 122.6 499.2 123.0 498.7 123.4 498.2 123.9 497.7 124.3 497.2 124.7 496.7 125.1 496.2 125.5 495.7 125.9 495.2 126.2 494.7 126.6 494.2 126.9 493.7 127.2 493.2 127.5 492.7 127.8 492.2 128.1 491.7 128.3 491.2 128.6 490.7 128.8 490.2 129.0 489.7 129.3 489.2 129.5 488.7 129.6 488.2 129.8 487.7 129.9 487.2 130.1 486.7 130.2 486.2 130.3 485.7 130.4 485.2 130.4 484.7 130.5 484.2 130.5 483.7 130.6 483.2 130.6 482.7 130.6 482.2 130.6 481.7 130.7 481.2 130.7 480.7 130.7 480.2 130.7 479.7 130.8 479.2 130.8 478.7 130.8 478.2 130.9 477.7 130.9 477.2 130.9 476.7 130.9 476.2 131.0 475.7 131.0 475.2 131.0 474.7 131.0 474.2 131.0 473.7 131.0 473.2 131.0 472.7 131.0 472.2 131.0 471.7 131.0 471.2 131.0 470.7 131.0 470.2 131.0 469.7 131.0 469.2 130.9 468.7 130.9 468.2 130.9 467.7 130.9 467.2 130.9 466.7 130.8 466.2 130.8 465.7 130.8 465.2 130.7 464.7 130.7 464.2 130.7 463.7 130.6 463.2 130.6 462.7 130.5 462.2 130.4 461.7 130.4 461.2 130.3 460.7 130.3 460.2 130.2 459.7 130.1 459.2 130.0 458.7 130.0 458.2 129.9 457.7 129.8 457.2 129.7 456.7 129.7 456.2 129.6 455.7 129.5 455.2 129.4 454.7 129.3 454.2 129.2 453.7 129.1 453.2 129.0 452.7 128.9 452.2 128.8 451.7 128.7 451.2 128.6 450.7 128.5 450.2 128.3 449.7 128.2 449.2 128.0 448.7 127.9 448.2 127.7 447.7 127.5 447.2 127.3 446.7 127.0 446.2 126.8 445.7 126.5 445.2 126.2 444.7 125.9 444.2 125.6 443.7 125.2 443.2 124.8 442.7 124.4 442.2 124.0 441.7 123.5 441.2 123.1 440.7 122.6 440.2 122.2 439.7 121.7 439.2 121.3 438.7 120.8 438.2 120.3 437.7 119.8 437.2 119.3 436.7 118.9 436.2 118.5 435.7 118.2 435.2 117.9 434.7 117.6 434.2 117.3 433.7 117.0 433.2 116.8 432.7 116.5 432.2 116.3 431.7 116.0 431.2 115.8 430.7 115.6 430.2 115.4 429.7 115.2 429.2 115.0 428.7 114.9 428.2 114.8 427.7 114.6 427.2 114.5 426.7 114.4 426.2 114.3 425.7 114.2 425.2 114.1 424.7 113.9 424.2 113.8 423.7 113.6 423.2 113.4 422.7 113.1 422.2 112.9 421.7 112.6 421.2 112.3 420.7 111.9 420.2 111.6 419.7 111.2 419.2 110.8 418.7 110.4 418.2 110.0 417.7 109.6 417.2 109.2 416.7 108.8 416.2 108.4 415.7 108.0 415.2 107.6 414.7 107.2 414.2 106.8 413.7 106.4 413.2 105.9 412.7 105.5 412.2 105.1 411.7 104.6 411.2 104.2 410.7 103.7 410.2 103.2 409.7 102.7 409.2 102.2 408.7 101.8 408.2 101.4 407.7 101.0 407.2 100.6 406.7 100.3 406.2 100.0 405.7 99.7 405.2 99.4 404.7 99.1 404.2 98.9 403.7 98.6 403.2 98.3 402.7 98.0 402.2 97.8 401.7 97.5 401.2 97.3 400.7 97.0 400.2 96.8 399.7 96.6 399.2 96.3 398.7 96.1 398.2 95.9 397.7 95.7 397.2 95.5 396.7 95.2 396.2 95.0 395.7 94.7 395.2 94.5 394.7 94.3 394.2 94.1 393.7 93.9 393.2 93.8 392.7 93.6 392.2 93.5 391.7 93.5 391.2 93.5 390.7 93.6 390.2 93.7 389.7 93.8 389.2 94.0 388.7 94.2 388.2 94.4 387.7 94.6 387.2 94.8 386.7 94.9 386.2 95.1 385.7 95.2 385.2 95.3 384.7 95.3 384.2 95.4 383.7 95.4 383.2 95.4 382.7 95.4 382.2 95.4 381.7 95.4 381.2 95.3 380.7 95.3 380.2 95.2 379.7 95.1 379.2 95.0 378.7 94.9 378.2 94.7 377.7 94.4 377.2 94.1 376.7 93.7 376.2 93.2 375.7 92.8 375.2 92.3 374.7 91.9 374.2 91.5 373.7 91.1 373.2 90.8 372.7 90.4 372.2 90.0 371.7 89.6 371.2 89.2 370.7 88.9 370.2 88.5 369.7 88.0 369.2 87.6 368.7 87.1 368.2 86.7 367.7 86.2 367.2 85.8 366.7 85.4 366.2 85.0 365.7 84.7 365.2 84.4 364.7 84.3 364.2 84.3 363.7 84.4 363.2 84.6 362.7 84.8 362.2 85.1 361.7 85.4 361.2 85.7 360.7 86.1 360.2 86.4 359.7 86.7 359.2 86.9 358.7 87.2 358.2 87.4 357.7 87.6 357.2 87.7 356.7 87.9 356.2 88.1 355.7 88.2 355.2 88.3 354.7 88.4 354.2 88.5 353.7 88.6 353.2 88.6 352.7 88.7 352.2 88.7 351.7 88.7 351.2 88.8 350.7 88.8 350.2 88.9 349.7 88.9 349.2 89.0 348.7 89.1 348.2 89.2 347.7 89.3 347.2 89.5 346.7 89.6 346.2 89.7 345.7 89.9 345.2 90.0 344.7 90.2 344.2 90.4 343.7 90.6 343.2 90.7 342.7 90.9 342.2 91.1 341.7 91.4 341.2 91.6 340.7 91.9 340.2 92.2 339.7 92.5 339.2 92.8 338.7 93.1 338.2 93.4 337.7 93.7 337.2 94.0 336.7 94.3 336.2 94.6 335.7 94.9 335.2 95.2 334.7 95.4 334.2 95.7 333.7 96.0 333.2 96.2 332.7 96.4 332.2 96.6 331.7 96.8 331.2 97.0 330.7 97.2 330.2 97.3 329.7 97.4 329.2 97.5 328.7 97.6 328.2 97.6 327.7 97.6 327.2 97.6 326.7 97.6 326.2 97.6 325.7 97.6 325.2 97.5 324.7 97.5 324.2 97.5 323.7 97.5 323.2 97.5 322.7 97.5 322.2 97.5 321.7 97.6 321.2 97.6 320.7 97.6 320.2 97.7 319.7 97.7 319.2 97.8 318.7 97.8 318.2 97.9 317.7 98.0 317.2 98.0 316.7 98.1 316.2 98.2 315.7 98.3 315.2 98.4 314.7 98.5 314.2 98.6 313.7 98.7 313.2 98.9 312.7 99.0 312.2 99.2 311.7 99.3 311.2 99.4 310.7 99.6 310.2 99.7 309.7 99.8 309.2 99.8 308.7 99.9 308.2 100.0 307.7 100.0 307.2 100.1 306.7 100.1 306.2 100.2 305.7 100.2 305.2 100.2 304.7 100.2 304.2 100.2 303.7 100.2 303.2 100.1 302.7 100.0 302.2 100.0 301.7 99.9 301.2 99.8 300.7 99.8 300.2 99.7 299.7 99.6 299.2 99.5 298.7 99.4 298.2 99.3 297.7 99.2 297.2 99.2 296.7 99.1 296.2 99.0 295.7 98.9 295.2 98.8 294.7 98.8 294.2 98.7 293.7 98.6 293.2 98.6 292.7 98.5 292.2 98.5 291.7 98.4 291.2 98.4 290.7 98.3 290.2 98.2 289.7 98.2 289.2 98.1 288.7 98.0 288.2 97.9 287.7 97.8 287.2 97.7 286.7 97.6 286.2 97.5 285.7 97.4 285.2 97.3 284.7 97.2 284.2 97.1 283.7 97.0 283.2 96.9 282.7 96.7 282.2 96.6 281.7 96.5 281.2 96.3 280.7 96.2 280.2 96.1 279.7 95.9 279.2 95.8 278.7 95.6 278.2 95.4 277.7 95.2 277.2 95.0 276.7 94.8 276.2 94.6 275.7 94.4 275.2 94.2 274.7 94.0 274.2 93.8 273.7 93.5 273.2 93.3 272.7 93.1 272.2 92.8 271.7 92.6 271.2 92.3 270.7 92.1 270.2 91.8 269.7 91.5 269.2 91.2 268.7 90.9 268.2 90.6 267.7 90.2 267.2 89.9 266.7 89.6 266.2 89.3 265.7 89.0 265.2 88.8 264.7 88.6 264.2 88.4 263.7 88.3 263.2 88.2 262.7 88.1 262.2 88.0 261.7 87.9 261.2 87.9 260.7 87.8 260.2 87.7 259.7 87.7 259.2 87.6 258.7 87.5 258.2 87.5 257.7 87.4 257.2 87.4 256.7 87.3 256.2 87.3 255.7 87.2 255.2 87.1 254.7 87.0 254.2 87.0 253.7 86.9 253.2 86.8 252.7 86.7 252.2 86.6 251.7 86.4 251.2 86.3 250.7 86.1 250.2 85.8 249.7 85.5 249.2 85.1 248.7 84.7 248.2 84.2 247.7 83.7 247.2 83.2 246.7 82.6 246.2 82.2 245.7 81.7 245.2 81.3 244.7 81.0 244.2 80.6 243.7 80.3 243.2 79.9 242.7 79.6 242.2 79.3 241.7 79.1 241.2 78.8 240.7 78.6 240.2 78.4 239.7 78.2 239.2 78.0 238.7 77.8 238.2 77.7 237.7 77.5 237.2 77.4 236.7 77.3 236.2 77.1 235.7 77.0 235.2 76.9 234.7 76.8 234.2 76.6 233.7 76.5 233.2 76.4 232.7 76.2 232.2 76.1 231.7 75.9 231.2 75.7 230.7 75.6 230.2 75.4 229.7 75.2 229.2 75.0 228.7 74.8 228.2 74.6 227.7 74.4 227.2 74.2 226.7 74.0 226.2 73.8 225.7 73.6 225.2 73.5 224.7 73.3 224.2 73.1 223.7 73.0 223.2 72.8 222.7 72.7 222.2 72.6 221.7 72.4 221.2 72.3 220.7 72.2 220.2 72.0 219.7 71.9 219.2 71.7 218.7 71.6 218.2 71.4 217.7 71.2 217.2 71.0 216.7 70.8 216.2 70.6 215.7 70.4 215.2 70.2 214.7 70.1 214.2 69.9 213.7 69.8 213.2 69.7 212.7 69.6 212.2 69.6 211.7 69.5 211.2 69.4 210.7 69.4 210.2 69.3 209.7 69.3 209.2 69.2 208.7 69.2 208.2 69.1 207.7 69.1 207.2 69.1 206.7 69.0 206.2 69.0 205.7 69.0 205.2 69.0 204.7 69.0 204.2 69.0 203.7 69.1 203.2 69.1 202.7 69.2 202.2 69.2 201.7 69.3 201.2 69.3 200.7 69.4 200.2 69.4 199.7 69.5 199.2 69.6 198.7 69.6 198.2 69.7 197.7 69.7 197.2 69.8 196.7 69.8 196.2 69.9 195.7 69.9 195.2 70.0 194.7 70.0 194.2 70.1 193.7 70.1 193.2 70.1 192.7 70.2 192.2 70.3 191.7 70.4 191.2 70.6 190.7 70.7 190.2 70.9 189.7 71.0 189.2 71.2 188.7 71.4 188.2 71.6 187.7 71.8 187.2 72.1 186.7 72.5 186.2 72.9 185.7 73.3 185.2 73.8 184.7 74.2 184.2 74.5 183.7 74.8 183.2 75.0 182.7 75.1 182.2 75.2 181.7 75.2 181.2 75.2 180.7 75.2 180.2 75.1 179.7 75.0 179.2 74.8 178.7 74.7 178.2 74.5 177.7 74.4 177.2 74.2 176.7 74.0 176.2 73.8 175.7 73.6 175.2 73.4 174.7 73.2 174.2 72.9 173.7 72.7 173.2 72.5 172.7 72.2 172.2 72.0 171.7 71.8 171.2 71.6 170.7 71.3 170.2 71.1 169.7 70.9 169.2 70.7 168.7 70.5 168.2 70.3 167.7 70.0 167.2 69.7 166.7 69.5 166.2 69.3 165.7 69.1 165.2 69.0 164.7 69.0 164.2 68.9 163.7 68.9 163.2 68.9 162.7 68.9 162.2 68.9 161.7 68.9 161.2 68.9 160.7 68.9 160.2 68.9 159.7 69.0 159.2 69.0 158.7 69.0 158.2 69.0 157.7 69.0 157.2 69.0 156.7 69.0 156.2 69.0 155.7 69.0 155.2 69.0 154.7 69.0 154.2 69.0 153.7 69.0 153.2 69.0 152.7 69.0 152.2 69.0 151.7 69.0 151.2 69.0 150.7 69.0 150.2 69.0 149.7 69.0 149.2 69.0 148.7 69.0 148.2 69.0 147.7 69.1 147.2 69.1 146.7 69.1 146.2 69.1 145.7 69.1 145.2 69.1 144.7 69.2 144.2 69.2 143.7 69.2 143.2 69.2 142.7 69.2 142.2 69.2 141.7 69.2 141.2 69.2 140.7 69.2 140.2 69.2 139.7 69.2 139.2 69.1 138.7 69.1 138.2 69.1 137.7 69.1 137.2 69.0 136.7 68.9 136.2 68.9 135.7 68.8 135.2 68.7 134.7 68.5 134.2 68.3 133.7 68.1 133.2 67.7 132.7 67.4 132.2 67.0 131.7 66.5 131.2 66.0 130.7 65.4 130.2 64.7 129.7 63.9 129.2 63.0 128.7 61.7 128.2 60.4 127.7 59.2 127.2 58.1 126.7 57.2 126.2 56.7 125.7 56.9 125.2 57.4 124.7 58.1 124.2 58.8 123.7 59.4 123.2 60.1 122.7 60.7 122.2 61.4 121.7 62.0 121.2 62.6 120.7 63.2 120.2 63.8 119.7 64.4 119.2 65.0 118.7 65.5 118.2 66.1 117.7 66.6 117.2 67.1 116.7 67.6 116.2 68.1 115.7 68.6 115.2 69.1 114.7 69.6 114.2 70.0 113.7 70.5 113.2 71.0 112.7 71.5 112.2 72.0 111.7 72.5 111.2 73.0 110.7 73.5 110.2 74.0 109.7 74.5 109.2 75.0 108.7 75.5 108.2 76.0 107.7 76.5 107.2 77.0 106.7 77.6 106.2 78.2 105.7 78.7 105.2 79.3 104.7 79.9 104.2 80.5 103.7 81.1 103.2 81.6 102.7 82.2 102.2 82.7 101.7 83.3 101.2 83.8 100.7 84.4 100.2 85.0 99.7 85.6 99.2 86.3 98.7 87.0 98.2 87.8 97.7 88.7 97.2 89.7 96.7 90.7 96.2 91.6 95.7 92.5 95.2 93.3 94.7 94.2 94.2 95.1 93.7 96.0 93.2 97.0 92.7 98.2 92.2 99.4 91.7 100.6 91.2 101.6 90.7 102.5 90.2 103.4 89.7 104.2 89.2 105.1 88.7 105.9 88.2 106.7 87.7 107.5 87.2 108.3 86.7 109.1 86.2 110.0 85.7 110.8 85.2 111.8 84.7 112.9 84.2 114.2 83.7 115.4 83.2 116.6 82.7 117.8 82.2 119.1 81.7 120.2 81.2 121.2 80.7 122.1 80.2 122.9 79.7 123.7 79.2 124.5 78.7 125.2 78.2 125.9 77.7 126.7 77.2 127.5 76.7 128.2 76.2 129.0 75.7 129.7 75.2 130.5 74.7 131.2 74.2 132.0 73.7 132.8 73.2 133.6 72.7 134.4 72.2 135.1 71.7 135.9 71.2 136.7 70.7 137.5 70.2 138.3 69.7 139.1 69.2 139.9 68.7 140.7 68.2 141.4 67.7 142.1 67.2 142.7 66.7 143.3 66.2 143.9Z" fill="#078807" stroke="#078807" stroke-width="1.60" stroke-linejoin="round"/>
<path d="M66.20 142.50 66.30 142.65 66.40 142.01 66.50 141.34 66.60 141.62 66.70 141.02 66.80 141.85 66.90 142.89 67.00 141.12 67.10 140.88 67.20 141.48 67.30 140.40 67.40 139.22 67.50 137.32 67.60 137.17 67.70 137.49 67.80 136.36 67.90 137.86 68.00 137.26 68.10 138.51 68.20 138.13 68.30 138.80 68.40 137.09 68.50 137.69 68.60 136.80 68.70 136.97 68.80 135.36 68.90 138.05 69.00 139.74 69.10 140.71 69.20 139.84 69.30 141.40 69.40 140.47 69.50 139.70 69.60 140.46 69.70 137.85 69.80 137.62 69.90 137.80 70.00 135.84 70.10 135.62 70.20 135.18 70.30 135.06 70.40 134.23 70.50 135.72 70.60 137.20 70.70 134.71 70.80 136.72 70.90 135.89 71.00 135.05 71.10 137.27 71.20 136.00 71.30 133.43 71.40 133.64 71.50 133.16 71.60 131.54 71.70 131.38 71.80 131.15 71.90 132.43 72.00 133.75 72.10 132.47 72.20 133.88 72.30 133.17 72.40 133.55 72.50 132.02 72.60 131.87 72.70 131.52 72.80 131.81 72.90 131.33 73.00 129.32 73.10 130.18 73.20 131.86 73.30 130.60 73.40 133.09 73.50 134.17 73.60 136.15 73.70 135.11 73.80 133.30 73.90 132.68 74.00 132.20 74.10 133.77 74.20 132.34 74.30 132.46 74.40 131.73 74.50 129.99 74.60 128.60 74.70 126.46 74.80 126.26 74.90 125.87 75.00 127.85 75.10 127.92 75.20 127.84 75.30 128.99 75.40 128.47 75.50 129.58 75.60 128.69 75.70 129.52 75.80 128.12 75.90 129.89 76.00 128.35 76.10 127.52 76.20 128.49 76.30 127.36 76.40 127.42 76.50 127.89 76.60 124.02 76.70 123.11 76.80 123.66 76.90 124.72 77.00 124.92 77.10 125.69 77.20 126.70 77.30 126.38 77.40 124.83 77.50 125.54 77.60 125.49 77.70 124.36 77.80 125.39 77.90 123.31 78.00 123.52 78.10 121.38 78.20 119.85 78.30 120.28 78.40 121.85 78.50 121.29 78.60 122.93 78.70 124.12 78.80 121.73 78.90 124.26 79.00 122.03 79.10 124.50 79.20 123.28 79.30 124.96 79.40 124.60 79.50 123.32 79.60 125.53 79.70 125.19 79.80 123.31 79.90 122.60 80.00 122.18 80.10 120.92 80.20 122.52 80.30 120.88 80.40 121.16 80.50 119.97 80.60 119.29 80.70 117.87 80.80 119.31 80.90 117.20 81.00 117.74 81.10 117.37 81.20 117.21 81.30 118.01 81.40 118.27 81.50 119.78 81.60 120.40 81.70 121.43 81.80 121.42 81.90 121.81 82.00 122.63 82.10 118.38 82.20 115.81 82.30 115.34 82.40 115.24 82.50 111.62 82.60 113.32 82.70 113.51 82.80 113.07 82.90 115.89 83.00 115.69 83.10 115.54 83.20 114.56 83.30 115.41 83.40 114.63 83.50 115.17 83.60 114.48 83.70 114.56 83.80 117.02 83.90 115.53 84.00 115.58 84.10 114.61 84.20 113.57 84.30 112.83 84.40 113.19 84.50 111.73 84.60 111.62 84.70 111.54 84.80 112.58 84.90 112.52 85.00 112.64 85.10 112.18 85.20 111.22 85.30 112.50 85.40 111.31 85.50 108.72 85.60 108.12 85.70 107.36 85.80 107.44 85.90 108.14 86.00 107.52 86.10 109.92 86.20 107.58 86.30 109.72 86.40 109.64 86.50 110.23 86.60 111.38 86.70 111.16 86.80 108.22 86.90 107.00 87.00 107.54 87.10 104.18 87.20 103.37 87.30 103.18 87.40 101.93 87.50 102.49 87.60 105.61 87.70 106.19 87.80 105.77 87.90 105.86 88.00 104.89 88.10 104.78 88.20 106.47 88.30 106.23 88.40 106.10 88.50 108.29 88.60 106.96 88.70 106.57 88.80 104.50 88.90 103.98 89.00 103.06 89.10 102.47 89.20 102.75 89.30 101.18 89.40 101.51 89.50 100.81 89.60 102.27 89.70 99.56 89.80 101.97 89.90 101.45 90.00 101.87 90.10 100.86 90.20 101.58 90.30 102.49 90.40 101.57 90.50 100.70 90.60 99.23 90.70 99.39 90.80 97.20 90.90 94.09 91.00 96.16 91.10 95.78 91.20 95.39 91.30 98.61 91.40 101.00 91.50 99.64 91.60 98.33 91.70 98.32 91.80 99.96 91.90 98.86 92.00 99.10 92.10 99.45 92.20 99.97 92.30 100.77 92.40 99.62 92.50 98.39 92.60 96.34 92.70 97.24 92.80 95.93 92.90 97.29 93.00 94.93 93.10 95.73 93.20 95.62 93.30 94.95 93.40 98.50 93.50 99.07 93.60 98.16 93.70 99.58 93.80 98.03 93.90 94.13 94.00 95.51 94.10 94.03 94.20 93.75 94.30 92.52 94.40 93.07 94.50 92.51 94.60 92.58 94.70 90.65 94.80 89.18 94.90 89.39 95.00 87.04 95.10 88.00 95.20 86.46 95.30 89.19 95.40 88.33 95.50 88.44 95.60 89.17 95.70 89.62 95.80 90.67 95.90 90.48 96.00 90.35 96.10 90.51 96.20 92.01 96.30 91.34 96.40 90.98 96.50 90.69 96.60 90.82 96.70 92.56 96.80 91.01 96.90 90.06 97.00 88.86 97.10 86.52 97.20 85.81 97.30 85.35 97.40 82.93 97.50 83.01 97.60 83.91 97.70 84.38 97.80 82.75 97.90 83.88 98.00 82.27 98.10 82.65 98.20 81.46 98.30 83.51 98.40 85.19 98.50 84.38 98.60 84.96 98.70 85.76 98.80 85.44 98.90 84.40 99.00 85.56 99.10 86.61 99.20 83.40 99.30 82.29 99.40 80.37 99.50 80.44 99.60 78.52 99.70 79.54 99.80 82.59 99.90 81.92 100.00 85.45 100.10 87.16 100.20 86.75 100.30 87.41 100.40 87.71 100.50 84.82 100.60 83.51 100.70 81.87 100.80 82.48 100.90 82.93 101.00 81.61 101.10 79.07 101.20 79.77 101.30 80.72 101.40 82.06 101.50 81.93 101.60 82.19 101.70 82.16 101.80 81.51 101.90 81.63 102.00 82.17 102.10 82.26 102.20 83.15 102.30 84.73 102.40 83.46 102.50 82.41 102.60 80.27 102.70 81.56 102.80 78.93 102.90 79.30 103.00 81.22 103.10 81.56 103.20 81.49 103.30 80.80 103.40 82.71 103.50 83.13 103.60 83.37 103.70 83.90 103.80 81.12 103.90 79.29 104.00 78.25 104.10 79.14 104.20 78.92 104.30 77.77 104.40 78.02 104.50 75.99 104.60 77.14 104.70 76.21 104.80 75.70 104.90 74.95 105.00 76.50 105.10 76.57 105.20 77.00 105.30 77.49 105.40 76.51 105.50 76.27 105.60 78.16 105.70 77.83 105.80 78.99 105.90 80.48 106.00 78.81 106.10 80.46 106.20 81.26 106.30 80.44 106.40 78.73 106.50 79.30 106.60 78.22 106.70 76.77 106.80 77.59 106.90 79.71 107.00 79.72 107.10 76.82 107.20 78.96 107.30 77.51 107.40 77.40 107.50 75.07 107.60 74.95 107.70 74.09 107.80 76.75 107.90 72.96 108.00 73.20 108.10 69.84 108.20 71.00 108.30 70.49 108.40 72.66 108.50 73.92 108.60 70.70 108.70 71.59 108.80 70.67 108.90 70.76 109.00 72.95 109.10 74.69 109.20 75.93 109.30 75.92 109.40 74.86 109.50 74.62 109.60 73.83 109.70 73.45 109.80 74.96 109.90 75.57 110.00 72.64 110.10 73.01 110.20 71.24 110.30 70.38 110.40 71.46 110.50 69.77 110.60 71.96 110.70 70.28 110.80 71.70 110.90 71.52 111.00 71.09 111.10 72.20 111.20 71.43 111.30 72.29 111.40 72.49 111.50 72.33 111.60 74.00 111.70 74.93 111.80 75.40 111.90 72.74 112.00 72.54 112.10 70.45 112.20 72.14 112.30 71.00 112.40 70.79 112.50 71.98 112.60 72.39 112.70 69.38 112.80 69.13 112.90 69.23 113.00 68.79 113.10 70.05 113.20 68.88 113.30 68.86 113.40 70.23 113.50 69.84 113.60 71.73 113.70 71.29 113.80 71.89 113.90 71.61 114.00 73.93 114.10 70.95 114.20 70.45 114.30 69.19 114.40 68.59 114.50 68.39 114.60 69.97 114.70 67.22 114.80 67.72 114.90 69.24 115.00 69.98 115.10 72.89 115.20 72.09 115.30 69.27 115.40 67.66 115.50 67.36 115.60 68.54 115.70 64.65 115.80 67.57 115.90 66.03 116.00 67.80 116.10 64.83 116.20 64.48 116.30 62.32 116.40 61.73 116.50 64.36 116.60 64.08 116.70 63.22 116.80 63.03 116.90 61.76 117.00 62.38 117.10 62.10 117.20 62.59 117.30 63.11 117.40 62.72 117.50 64.20 117.60 64.76 117.70 66.37 117.80 66.78 117.90 64.88 118.00 64.45 118.10 65.58 118.20 65.59 118.30 65.96 118.40 66.82 118.50 65.23 118.60 65.59 118.70 63.78 118.80 62.92 118.90 61.96 119.00 60.90 119.10 60.64 119.20 61.63 119.30 61.45 119.40 61.87 119.50 61.36 119.60 59.73 119.70 60.26 119.80 58.24 119.90 58.66 120.00 59.47 120.10 58.39 120.20 60.86 120.30 61.43 120.40 61.67 120.50 61.24 120.60 60.72 120.70 59.60 120.80 59.67 120.90 58.85 121.00 59.30 121.10 58.46 121.20 60.09 121.30 60.57 121.40 61.37 121.50 62.14 121.60 63.64 121.70 62.25 121.80 63.90 121.90 62.84 122.00 62.02 122.10 61.25 122.20 59.14 122.30 58.49 122.40 58.40 122.50 57.30 122.60 57.01 122.70 56.11 122.80 58.60 122.90 59.82 123.00 59.84 123.10 59.01 123.20 57.27 123.30 59.39 123.40 58.29 123.50 56.01 123.60 58.24 123.70 55.85 123.80 55.31 123.90 55.20 124.00 56.20 124.10 55.09 124.20 55.96 124.30 57.14 124.40 56.84 124.50 54.92 124.60 54.04 124.70 53.27 124.80 54.24 124.90 55.71 125.00 56.14 125.10 56.22 125.20 56.95 125.30 55.95 125.40 57.19 125.50 58.51 125.60 59.00 125.70 60.07 125.80 58.81 125.90 57.42 126.00 57.28 126.10 55.32 126.20 54.05 126.30 55.89 126.40 55.38 126.50 55.80 126.60 53.72 126.70 54.35 126.80 53.60 126.90 52.84 127.00 51.70 127.10 54.33 127.20 56.34 127.30 56.79 127.40 56.58 127.50 57.34 127.60 58.25 127.70 55.31 127.80 58.56 127.90 60.32 128.00 61.62 128.10 63.36 128.20 62.17 128.30 60.76 128.40 60.09 128.50 60.49 128.60 59.58 128.70 60.31 128.80 62.06 128.90 64.05 129.00 63.17 129.10 64.28 129.20 64.29 129.30 64.76 129.40 62.94 129.50 63.70 129.60 61.49 129.70 62.37 129.80 62.53 129.90 63.58 130.00 63.62 130.10 61.00 130.20 61.21 130.30 62.00 130.40 60.77 130.50 59.75 130.60 62.66 130.70 62.78 130.80 63.38 130.90 63.11 131.00 65.05 131.10 64.28 131.20 65.59 131.30 63.89 131.40 64.04 131.50 65.09 131.60 64.56 131.70 66.50 131.80 66.83 131.90 66.47 132.00 67.55 132.10 66.24 132.20 66.27 132.30 63.76 132.40 63.14 132.50 64.12 132.60 65.23 132.70 65.86 132.80 65.23 132.90 66.47 133.00 68.76 133.10 68.08 133.20 67.79 133.30 68.40 133.40 68.33 133.50 66.81 133.60 65.70 133.70 65.51 133.80 67.31 133.90 66.08 134.00 66.29 134.10 66.15 134.20 66.06 134.30 64.74 134.40 65.84 134.50 65.13 134.60 66.48 134.70 66.81 134.80 69.26 134.90 68.64 135.00 68.42 135.10 69.18 135.20 69.04 135.30 69.51 135.40 67.08 135.50 67.22 135.60 67.45 135.70 69.04 135.80 66.70 135.90 64.87 136.00 64.73 136.10 65.60 136.20 64.45 136.30 65.24 136.40 67.58 136.50 67.84 136.60 68.14 136.70 66.64 136.80 68.08 136.90 67.14 137.00 65.36 137.10 64.71 137.20 61.52 137.30 64.43 137.40 64.45 137.50 65.79 137.60 67.19 137.70 67.68 137.80 67.84 137.90 70.35 138.00 69.55 138.10 69.28 138.20 68.39 138.30 67.98 138.40 65.62 138.50 68.80 138.60 67.94 138.70 68.72 138.80 69.51 138.90 67.32 139.00 64.97 139.10 65.07 139.20 64.07 139.30 64.22 139.40 65.47 139.50 64.32 139.60 67.15 139.70 66.20 139.80 68.03 139.90 67.67 140.00 66.78 140.10 65.92 140.20 64.43 140.30 63.57 140.40 63.69 140.50 66.26 140.60 69.03 140.70 69.57 140.80 68.98 140.90 68.43 141.00 67.02 141.10 68.51 141.20 66.74 141.30 66.31 141.40 65.69 141.50 65.62 141.60 65.38 141.70 66.08 141.80 65.11 141.90 65.68 142.00 68.00 142.10 65.76 142.20 65.12 142.30 65.62 142.40 66.27 142.50 65.12 142.60 66.42 142.70 67.95 142.80 68.63 142.90 69.50 143.00 71.57 143.10 70.34 143.20 70.90 143.30 69.08 143.40 69.61 143.50 65.23 143.60 65.10 143.70 64.70 143.80 65.65 143.90 66.10 144.00 67.30 144.10 65.13 144.20 68.24 144.30 69.19 144.40 70.48 144.50 72.96 144.60 70.72 144.70 68.28 144.80 68.41 144.90 66.41 145.00 67.17 145.10 68.08 145.20 68.02 145.30 69.25 145.40 68.10 145.50 67.35 145.60 68.51 145.70 68.82 145.80 68.41 145.90 69.44 146.00 68.00 146.10 66.34 146.20 68.34 146.30 66.83 146.40 66.10 146.50 64.73 146.60 64.06 146.70 63.05 146.80 65.27 146.90 65.10 147.00 65.60 147.10 66.14 147.20 64.29 147.30 66.51 147.40 67.47 147.50 68.95 147.60 68.41 147.70 71.54 147.80 70.14 147.90 68.51 148.00 67.62 148.10 68.46 148.20 68.19 148.30 67.47 148.40 68.57 148.50 68.46 148.60 70.09 148.70 69.40 148.80 69.46 148.90 69.82 149.00 70.69 149.10 66.91 149.20 67.20 149.30 67.65 149.40 70.10 149.50 69.34 149.60 70.93 149.70 72.32 149.80 71.36 149.90 70.39 150.00 69.84 150.10 67.38 150.20 66.98 150.30 67.22 150.40 66.79 150.50 65.37 150.60 62.82 150.70 62.87 150.80 63.35 150.90 64.25 151.00 64.80 151.10 65.19 151.20 67.68 151.30 67.07 151.40 66.54 151.50 66.87 151.60 68.89 151.70 68.74 151.80 70.54 151.90 70.02 152.00 72.25 152.10 71.82 152.20 71.84 152.30 73.27 152.40 70.76 152.50 68.66 152.60 68.20 152.70 68.80 152.80 70.40 152.90 69.67 153.00 69.27 153.10 69.78 153.20 69.25 153.30 68.53 153.40 68.81 153.50 67.87 153.60 68.32 153.70 66.60 153.80 67.79 153.90 68.26 154.00 66.44 154.10 65.34 154.20 64.62 154.30 65.81 154.40 64.00 154.50 65.36 154.60 66.51 154.70 67.40 154.80 66.97 154.90 67.87 155.00 67.08 155.10 66.64 155.20 65.61 155.30 63.90 155.40 64.10 155.50 65.03 155.60 64.18 155.70 65.63 155.80 67.25 155.90 66.50 156.00 67.76 156.10 66.64 156.20 68.85 156.30 70.72 156.40 71.28 156.50 70.07 156.60 71.75 156.70 70.54 156.80 69.71 156.90 70.19 157.00 66.80 157.10 68.55 157.20 67.55 157.30 68.81 157.40 67.33 157.50 66.18 157.60 66.66 157.70 66.69 157.80 65.69 157.90 65.91 158.00 65.38 158.10 64.30 158.20 67.41 158.30 67.61 158.40 67.49 158.50 67.66 158.60 68.53 158.70 67.18 158.80 67.39 158.90 68.61 159.00 70.60 159.10 69.04 159.20 72.11 159.30 69.78 159.40 68.61 159.50 69.97 159.60 67.73 159.70 65.50 159.80 65.71 159.90 66.24 160.00 65.84 160.10 63.75 160.20 65.03 160.30 65.93 160.40 65.34 160.50 66.86 160.60 67.14 160.70 67.05 160.80 67.08 160.90 67.58 161.00 67.07 161.10 65.89 161.20 65.37 161.30 66.11 161.40 64.66 161.50 64.77 161.60 65.69 161.70 65.78 161.80 68.27 161.90 67.04 162.00 70.06 162.10 70.30 162.20 73.17 162.30 73.58 162.40 69.37 162.50 69.34 162.60 69.89 162.70 69.08 162.80 68.14 162.90 67.41 163.00 67.88 163.10 68.06 163.20 67.41 163.30 69.07 163.40 66.94 163.50 70.37 163.60 69.70 163.70 72.32 163.80 71.14 163.90 69.72 164.00 70.04 164.10 68.06 164.20 67.08 164.30 65.56 164.40 66.56 164.50 66.64 164.60 66.73 164.70 65.30 164.80 66.65 164.90 66.13 165.00 66.44 165.10 66.46 165.20 66.23 165.30 64.20 165.40 63.28 165.50 64.46 165.60 65.77 165.70 65.99 165.80 68.70 165.90 67.44 166.00 68.25 166.10 67.12 166.20 68.22 166.30 68.38 166.40 69.09 166.50 72.74 166.60 72.70 166.70 74.09 166.80 71.99 166.90 69.17 167.00 68.06 167.10 68.67 167.20 68.38 167.30 68.42 167.40 68.64 167.50 67.95 167.60 70.05 167.70 68.93 167.80 71.93 167.90 71.50 168.00 70.83 168.10 70.20 168.20 69.55 168.30 66.93 168.40 65.56 168.50 65.36 168.60 64.65 168.70 66.18 168.80 69.05 168.90 67.23 169.00 69.33 169.10 68.07 169.20 69.61 169.30 69.09 169.40 69.37 169.50 70.48 169.60 72.29 169.70 71.63 169.80 72.32 169.90 72.08 170.00 73.49 170.10 72.08 170.20 72.38 170.30 70.93 170.40 71.87 170.50 68.08 170.60 69.64 170.70 70.74 170.80 69.68 170.90 69.32 171.00 69.75 171.10 67.73 171.20 68.06 171.30 69.14 171.40 67.36 171.50 66.43 171.60 67.26 171.70 68.12 171.80 69.51 171.90 67.47 172.00 68.29 172.10 70.41 172.20 71.10 172.30 70.30 172.40 70.41 172.50 70.95 172.60 72.64 172.70 72.19 172.80 75.24 172.90 73.59 173.00 74.61 173.10 75.87 173.20 75.26 173.30 73.89 173.40 76.60 173.50 76.56 173.60 74.04 173.70 73.06 173.80 73.02 173.90 70.88 174.00 72.84 174.10 69.33 174.20 70.55 174.30 71.35 174.40 71.44 174.50 72.25 174.60 72.80 174.70 72.82 174.80 74.49 174.90 72.00 175.00 73.61 175.10 72.60 175.20 73.00 175.30 72.72 175.40 71.51 175.50 72.19 175.60 73.97 175.70 74.06 175.80 73.62 175.90 76.56 176.00 76.76 176.10 72.96 176.20 74.14 176.30 75.71 176.40 73.75 176.50 72.61 176.60 71.77 176.70 71.11 176.80 71.04 176.90 70.38 177.00 71.36 177.10 70.76 177.20 71.16 177.30 70.66 177.40 71.02 177.50 69.58 177.60 69.18 177.70 69.64 177.80 70.18 177.90 71.45 178.00 72.46 178.10 72.85 178.20 72.20 178.30 71.56 178.40 72.04 178.50 69.90 178.60 71.59 178.70 70.83 178.80 70.67 178.90 71.30 179.00 70.90 179.10 71.43 179.20 70.33 179.30 71.27 179.40 68.79 179.50 67.42 179.60 69.60 179.70 69.25 179.80 71.81 179.90 73.24 180.00 73.16 180.10 71.11 180.20 71.15 180.30 73.59 180.40 72.79 180.50 73.02 180.60 74.48 180.70 75.97 180.80 74.95 180.90 73.91 181.00 74.12 181.10 74.46 181.20 73.84 181.30 73.92 181.40 75.40 181.50 74.98 181.60 76.39 181.70 76.67 181.80 78.72 181.90 75.88 182.00 76.56 182.10 76.55 182.20 76.74 182.30 76.77 182.40 74.86 182.50 74.04 182.60 72.78 182.70 72.89 182.80 74.19 182.90 73.33 183.00 71.23 183.10 70.67 183.20 69.89 183.30 70.61 183.40 70.70 183.50 72.08 183.60 70.87 183.70 70.59 183.80 72.14 183.90 67.76 184.00 68.48 184.10 69.05 184.20 69.36 184.30 69.81 184.40 71.32 184.50 72.36 184.60 73.43 184.70 72.20 184.80 74.13 184.90 73.87 185.00 74.52 185.10 75.09 185.20 74.92 185.30 74.60 185.40 72.79 185.50 73.09 185.60 72.08 185.70 71.16 185.80 70.61 185.90 69.69 186.00 70.26 186.10 71.75 186.20 70.25 186.30 71.58 186.40 70.83 186.50 70.89 186.60 69.57 186.70 70.95 186.80 72.62 186.90 74.32 187.00 75.31 187.10 74.74 187.20 73.62 187.30 72.02 187.40 72.11 187.50 70.51 187.60 71.04 187.70 72.02 187.80 69.59 187.90 67.26 188.00 66.82 188.10 65.49 188.20 66.64 188.30 69.81 188.40 69.76 188.50 68.71 188.60 70.35 188.70 70.34 188.80 68.34 188.90 67.50 189.00 67.86 189.10 68.89 189.20 69.68 189.30 70.64 189.40 70.83 189.50 71.65 189.60 72.79 189.70 73.14 189.80 72.15 189.90 72.50 190.00 71.85 190.10 70.17 190.20 70.29 190.30 69.11 190.40 68.57 190.50 70.67 190.60 70.37 190.70 70.82 190.80 72.31 190.90 73.28 191.00 73.49 191.10 71.23 191.20 71.92 191.30 71.21 191.40 69.83 191.50 69.98 191.60 70.13 191.70 68.59 191.80 67.74 191.90 70.00 192.00 67.17 192.10 65.88 192.20 66.61 192.30 66.71 192.40 66.24 192.50 68.76 192.60 68.98 192.70 69.97 192.80 72.06 192.90 73.40 193.00 71.82 193.10 71.85 193.20 70.64 193.30 72.43 193.40 68.41 193.50 69.76 193.60 67.80 193.70 67.07 193.80 67.17 193.90 66.66 194.00 66.33 194.10 66.13 194.20 65.94 194.30 66.65 194.40 68.24 194.50 68.96 194.60 69.90 194.70 69.11 194.80 70.22 194.90 71.16 195.00 70.48 195.10 69.41 195.20 69.13 195.30 68.34 195.40 70.52 195.50 67.78 195.60 69.64 195.70 69.05 195.80 70.06 195.90 69.40 196.00 68.40 196.10 68.30 196.20 68.67 196.30 69.60 196.40 69.81 196.50 71.11 196.60 72.89 196.70 69.04 196.80 69.94 196.90 68.02 197.00 68.55 197.10 69.13 197.20 69.04 197.30 70.51 197.40 69.11 197.50 72.25 197.60 71.43 197.70 72.38 197.80 71.24 197.90 68.01 198.00 68.91 198.10 69.05 198.20 69.65 198.30 68.50 198.40 68.47 198.50 66.95 198.60 69.50 198.70 69.83 198.80 68.94 198.90 69.59 199.00 69.21 199.10 72.34 199.20 73.23 199.30 70.55 199.40 69.87 199.50 67.75 199.60 65.79 199.70 67.29 199.80 64.39 199.90 64.72 200.00 65.23 200.10 66.34 200.20 66.49 200.30 67.03 200.40 66.57 200.50 66.66 200.60 68.07 200.70 66.19 200.80 64.47 200.90 63.32 201.00 63.91 201.10 63.85 201.20 65.47 201.30 66.38 201.40 68.88 201.50 70.09 201.60 72.55 201.70 70.14 201.80 69.84 201.90 70.24 202.00 68.72 202.10 69.23 202.20 72.20 202.30 71.49 202.40 70.46 202.50 69.28 202.60 70.62 202.70 70.44 202.80 69.66 202.90 71.00 203.00 72.47 203.10 71.50 203.20 69.19 203.30 68.60 203.40 66.82 203.50 63.74 203.60 64.33 203.70 64.26 203.80 63.05 203.90 62.35 204.00 65.59 204.10 68.19 204.20 70.61 204.30 68.89 204.40 74.20 204.50 69.87 204.60 70.78 204.70 70.07 204.80 68.33 204.90 66.25 205.00 64.13 205.10 64.79 205.20 64.08 205.30 62.64 205.40 67.60 205.50 65.84 205.60 66.08 205.70 62.82 205.80 65.25 205.90 66.16 206.00 66.93 206.10 66.79 206.20 67.20 206.30 69.26 206.40 68.11 206.50 68.92 206.60 69.87 206.70 68.23 206.80 68.31 206.90 68.33 207.00 71.06 207.10 71.52 207.20 71.36 207.30 73.52 207.40 71.22 207.50 70.59 207.60 70.68 207.70 67.72 207.80 67.56 207.90 66.52 208.00 67.05 208.10 67.55 208.20 64.53 208.30 64.54 208.40 63.31 208.50 63.97 208.60 64.78 208.70 68.09 208.80 69.80 208.90 68.22 209.00 67.15 209.10 68.29 209.20 66.65 209.30 66.97 209.40 65.81 209.50 65.10 209.60 64.69 209.70 63.61 209.80 64.49 209.90 64.03 210.00 65.90 210.10 65.44 210.20 66.43 210.30 64.99 210.40 65.06 210.50 65.18 210.60 64.39 210.70 65.58 210.80 65.69 210.90 67.07 211.00 67.27 211.10 66.47 211.20 66.07 211.30 68.39 211.40 66.40 211.50 69.74 211.60 68.42 211.70 67.13 211.80 72.64 211.90 72.30 212.00 70.47 212.10 70.96 212.20 70.02 212.30 69.71 212.40 67.69 212.50 67.82 212.60 68.95 212.70 69.62 212.80 71.40 212.90 71.28 213.00 74.22 213.10 71.18 213.20 71.20 213.30 68.10 213.40 67.23 213.50 68.08 213.60 65.44 213.70 66.18 213.80 65.05 213.90 64.28 214.00 65.54 214.10 66.03 214.20 66.69 214.30 68.44 214.40 68.99 214.50 68.11 214.60 67.84 214.70 69.16 214.80 69.28 214.90 70.76 215.00 72.69 215.10 71.52 215.20 70.85 215.30 69.76 215.40 67.99 215.50 66.78 215.60 65.54 215.70 65.06 215.80 65.06 215.90 66.91 216.00 66.93 216.10 68.75 216.20 69.47 216.30 73.50 216.40 72.86 216.50 73.21 216.60 71.51 216.70 71.34 216.80 69.23 216.90 70.14 217.00 71.97 217.10 68.40 217.20 69.62 217.30 69.16 217.40 67.07 217.50 66.45 217.60 67.33 217.70 66.58 217.80 68.57 217.90 68.41 218.00 69.30 218.10 69.64 218.20 70.57 218.30 71.33 218.40 72.10 218.50 70.87 218.60 74.49 218.70 73.57 218.80 72.75 218.90 71.33 219.00 71.15 219.10 71.31 219.20 70.76 219.30 68.81 219.40 71.07 219.50 73.10 219.60 68.99 219.70 72.03 219.80 71.88 219.90 71.86 220.00 73.66 220.10 71.46 220.20 72.34 220.30 73.17 220.40 71.27 220.50 71.01 220.60 71.75 220.70 71.86 220.80 74.31 220.90 71.46 221.00 72.54 221.10 70.00 221.20 71.51 221.30 70.82 221.40 68.56 221.50 70.80 221.60 69.48 221.70 69.71 221.80 71.20 221.90 68.40 222.00 68.11 222.10 70.78 222.20 69.02 222.30 69.81 222.40 68.15 222.50 66.50 222.60 67.35 222.70 69.51 222.80 70.20 222.90 70.17 223.00 70.55 223.10 69.94 223.20 68.91 223.30 70.63 223.40 68.26 223.50 67.27 223.60 68.53 223.70 70.30 223.80 70.88 223.90 70.82 224.00 70.99 224.10 71.73 224.20 70.19 224.30 70.03 224.40 71.15 224.50 69.15 224.60 69.12 224.70 70.50 224.80 70.86 224.90 71.16 225.00 73.97 225.10 72.65 225.20 71.74 225.30 72.13 225.40 70.45 225.50 67.90 225.60 67.38 225.70 68.01 225.80 67.79 225.90 70.91 226.00 72.09 226.10 72.56 226.20 72.25 226.30 74.26 226.40 75.36 226.50 75.96 226.60 74.27 226.70 75.66 226.80 73.70 226.90 74.37 227.00 76.09 227.10 74.67 227.20 74.39 227.30 75.40 227.40 73.60 227.50 73.23 227.60 73.26 227.70 73.97 227.80 71.10 227.90 73.21 228.00 73.89 228.10 74.66 228.20 75.71 228.30 76.56 228.40 76.95 228.50 74.43 228.60 73.96 228.70 72.80 228.80 70.34 228.90 71.45 229.00 73.53 229.10 73.01 229.20 72.81 229.30 73.32 229.40 71.82 229.50 72.20 229.60 72.03 229.70 69.76 229.80 70.22 229.90 71.28 230.00 69.64 230.10 70.12 230.20 68.38 230.30 69.31 230.40 70.57 230.50 74.54 230.60 73.79 230.70 75.26 230.80 76.02 230.90 77.01 231.00 78.20 231.10 77.22 231.20 78.35 231.30 76.13 231.40 76.67 231.50 75.13 231.60 75.79 231.70 74.69 231.80 76.62 231.90 77.42 232.00 78.01 232.10 76.82 232.20 78.87 232.30 77.05 232.40 76.33 232.50 75.81 232.60 75.15 232.70 75.18 232.80 73.88 232.90 74.71 233.00 76.33 233.10 76.72 233.20 76.77 233.30 76.52 233.40 75.83 233.50 76.06 233.60 76.71 233.70 74.23 233.80 76.50 233.90 75.91 234.00 74.77 234.10 75.91 234.20 73.91 234.30 73.70 234.40 73.46 234.50 73.61 234.60 73.04 234.70 72.68 234.80 73.46 234.90 71.68 235.00 74.27 235.10 72.28 235.20 72.52 235.30 72.93 235.40 72.75 235.50 73.05 235.60 73.87 235.70 75.26 235.80 76.17 235.90 76.11 236.00 73.74 236.10 72.96 236.20 71.88 236.30 72.15 236.40 70.29 236.50 74.26 236.60 73.72 236.70 74.47 236.80 76.20 236.90 76.85 237.00 76.26 237.10 76.93 237.20 76.25 237.30 77.84 237.40 78.46 237.50 77.86 237.60 79.85 237.70 78.36 237.80 77.74 237.90 76.28 238.00 76.30 238.10 77.45 238.20 76.45 238.30 79.09 238.40 79.70 238.50 80.52 238.60 78.04 238.70 79.11 238.80 78.97 238.90 76.88 239.00 76.83 239.10 74.43 239.20 77.54 239.30 76.95 239.40 78.95 239.50 77.12 239.60 80.02 239.70 79.13 239.80 79.53 239.90 77.42 240.00 77.16 240.10 79.19 240.20 76.24 240.30 76.39 240.40 76.82 240.50 76.19 240.60 78.88 240.70 80.12 240.80 78.69 240.90 78.53 241.00 81.69 241.10 80.97 241.20 80.04 241.30 79.68 241.40 77.19 241.50 77.42 241.60 76.38 241.70 77.29 241.80 80.53 241.90 80.12 242.00 83.81 242.10 80.86 242.20 79.22 242.30 79.05 242.40 78.67 242.50 77.05 242.60 75.08 242.70 76.07 242.80 77.40 242.90 76.27 243.00 76.58 243.10 78.74 243.20 78.51 243.30 77.61 243.40 78.32 243.50 78.13 243.60 79.76 243.70 80.27 243.80 81.89 243.90 82.18 244.00 79.84 244.10 81.07 244.20 80.46 244.30 78.54 244.40 77.81 244.50 75.48 244.60 74.87 244.70 77.61 244.80 76.87 244.90 76.09 245.00 78.79 245.10 76.21 245.20 75.59 245.30 73.80 245.40 75.01 245.50 76.31 245.60 78.18 245.70 79.98 245.80 78.33 245.90 81.16 246.00 79.51 246.10 79.71 246.20 81.37 246.30 80.52 246.40 78.73 246.50 81.30 246.60 78.39 246.70 78.92 246.80 78.60 246.90 80.37 247.00 79.36 247.10 81.36 247.20 80.46 247.30 82.81 247.40 81.29 247.50 81.75 247.60 83.89 247.70 82.26 247.80 81.73 247.90 83.31 248.00 81.27 248.10 79.87 248.20 80.96 248.30 79.79 248.40 82.41 248.50 83.03 248.60 81.97 248.70 82.46 248.80 83.54 248.90 84.28 249.00 84.55 249.10 87.10 249.20 85.91 249.30 88.13 249.40 87.16 249.50 86.28 249.60 85.80 249.70 83.42 249.80 84.71 249.90 84.08 250.00 83.71 250.10 83.13 250.20 83.35 250.30 85.00 250.40 84.42 250.50 85.95 250.60 87.46 250.70 88.04 250.80 88.26 250.90 86.07 251.00 84.84 251.10 86.21 251.20 85.51 251.30 86.80 251.40 86.35 251.50 87.96 251.60 88.20 251.70 88.28 251.80 87.56 251.90 86.24 252.00 84.86 252.10 83.63 252.20 83.09 252.30 81.37 252.40 84.15 252.50 83.08 252.60 84.00 252.70 82.96 252.80 82.43 252.90 83.68 253.00 81.24 253.10 81.21 253.20 82.56 253.30 83.76 253.40 86.83 253.50 85.31 253.60 85.23 253.70 82.75 253.80 83.24 253.90 82.79 254.00 83.07 254.10 80.94 254.20 82.88 254.30 83.38 254.40 82.96 254.50 84.63 254.60 85.18 254.70 83.55 254.80 86.20 254.90 86.17 255.00 85.30 255.10 84.88 255.20 88.31 255.30 88.12 255.40 89.69 255.50 90.40 255.60 87.80 255.70 88.13 255.80 86.32 255.90 85.79 256.00 85.79 256.10 85.88 256.20 86.89 256.30 85.26 256.40 84.22 256.50 83.31 256.60 83.07 256.70 81.16 256.80 81.43 256.90 82.65 257.00 83.01 257.10 84.23 257.20 84.60 257.30 87.78 257.40 87.21 257.50 86.43 257.60 86.17 257.70 88.94 257.80 88.01 257.90 88.39 258.00 89.49 258.10 90.08 258.20 90.35 258.30 88.33 258.40 89.50 258.50 86.09 258.60 86.78 258.70 85.23 258.80 88.62 258.90 87.61 259.00 88.78 259.10 90.59 259.20 91.81 259.30 89.16 259.40 88.95 259.50 87.10 259.60 87.58 259.70 86.47 259.80 85.96 259.90 85.67 260.00 85.50 260.10 84.26 260.20 84.50 260.30 84.48 260.40 80.47 260.50 81.40 260.60 82.07 260.70 83.83 260.80 82.96 260.90 83.99 261.00 83.50 261.10 84.70 261.20 83.55 261.30 82.86 261.40 83.98 261.50 84.06 261.60 83.52 261.70 86.10 261.80 86.46 261.90 86.42 262.00 87.46 262.10 87.69 262.20 85.63 262.30 86.83 262.40 89.83 262.50 90.63 262.60 89.60 262.70 90.11 262.80 90.81 262.90 90.05 263.00 88.20 263.10 88.78 263.20 86.72 263.30 85.91 263.40 87.64 263.50 86.23 263.60 86.80 263.70 87.45 263.80 88.28 263.90 88.23 264.00 89.56 264.10 89.77 264.20 92.60 264.30 91.52 264.40 89.84 264.50 90.74 264.60 91.71 264.70 91.74 264.80 92.16 264.90 90.96 265.00 88.44 265.10 88.06 265.20 86.23 265.30 88.33 265.40 89.06 265.50 92.18 265.60 90.66 265.70 89.51 265.80 90.73 265.90 90.71 266.00 88.76 266.10 88.39 266.20 88.13 266.30 88.18 266.40 86.93 266.50 85.49 266.60 86.21 266.70 84.23 266.80 83.91 266.90 84.03 267.00 85.48 267.10 87.69 267.20 86.56 267.30 88.51 267.40 89.28 267.50 88.26 267.60 87.96 267.70 85.89 267.80 87.21 267.90 86.17 268.00 86.46 268.10 86.41 268.20 88.78 268.30 92.33 268.40 93.97 268.50 93.51 268.60 94.13 268.70 91.78 268.80 91.20 268.90 89.67 269.00 88.35 269.10 85.06 269.20 86.32 269.30 87.50 269.40 86.36 269.50 87.25 269.60 89.87 269.70 89.54 269.80 88.05 269.90 90.97 270.00 90.44 270.10 89.90 270.20 91.76 270.30 89.51 270.40 88.24 270.50 88.53 270.60 87.04 270.70 87.73 270.80 89.34 270.90 89.07 271.00 89.74 271.10 92.22 271.20 91.72 271.30 91.72 271.40 91.52 271.50 90.99 271.60 91.25 271.70 89.31 271.80 90.38 271.90 87.41 272.00 88.75 272.10 88.46 272.20 90.10 272.30 91.60 272.40 92.85 272.50 91.00 272.60 91.90 272.70 92.22 272.80 92.53 272.90 92.77 273.00 94.54 273.10 92.96 273.20 94.06 273.30 93.32 273.40 91.73 273.50 90.43 273.60 89.47 273.70 92.01 273.80 88.74 273.90 91.38 274.00 90.99 274.10 91.57 274.20 92.44 274.30 96.01 274.40 98.22 274.50 96.53 274.60 96.03 274.70 96.17 274.80 94.45 274.90 94.88 275.00 92.20 275.10 93.25 275.20 91.68 275.30 94.73 275.40 92.48 275.50 91.64 275.60 94.01 275.70 94.49 275.80 96.83 275.90 94.71 276.00 94.60 276.10 94.74 276.20 95.22 276.30 93.33 276.40 93.66 276.50 92.41 276.60 90.90 276.70 90.64 276.80 91.46 276.90 91.47 277.00 94.25 277.10 92.35 277.20 94.69 277.30 94.53 277.40 93.63 277.50 93.06 277.60 93.88 277.70 94.98 277.80 95.70 277.90 95.76 278.00 96.86 278.10 95.51 278.20 95.83 278.30 93.72 278.40 94.75 278.50 93.13 278.60 91.68 278.70 92.46 278.80 91.40 278.90 88.46 279.00 91.97 279.10 91.96 279.20 95.56 279.30 98.17 279.40 96.70 279.50 97.08 279.60 96.19 279.70 96.13 279.80 95.80 279.90 95.78 280.00 93.71 280.10 96.07 280.20 94.21 280.30 95.69 280.40 96.87 280.50 96.86 280.60 95.76 280.70 96.02 280.80 95.90 280.90 95.94 281.00 96.68 281.10 94.16 281.20 95.41 281.30 95.52 281.40 95.50 281.50 95.44 281.60 96.41 281.70 95.51 281.80 96.49 281.90 96.91 282.00 98.70 282.10 96.06 282.20 98.40 282.30 96.38 282.40 95.74 282.50 94.48 282.60 93.62 282.70 94.99 282.80 94.74 282.90 95.83 283.00 94.08 283.10 96.59 283.20 94.54 283.30 93.06 283.40 91.64 283.50 91.78 283.60 92.52 283.70 93.51 283.80 94.24 283.90 93.32 284.00 91.45 284.10 91.72 284.20 91.06 284.30 92.81 284.40 95.15 284.50 94.84 284.60 94.10 284.70 92.63 284.80 91.81 284.90 90.56 285.00 91.72 285.10 91.18 285.20 92.98 285.30 93.41 285.40 95.11 285.50 97.50 285.60 96.39 285.70 97.47 285.80 97.82 285.90 100.10 286.00 97.77 286.10 96.94 286.20 95.99 286.30 95.24 286.40 96.61 286.50 98.52 286.60 95.33 286.70 97.10 286.80 96.29 286.90 94.35 287.00 94.37 287.10 93.68 287.20 92.55 287.30 95.20 287.40 92.51 287.50 95.33 287.60 96.05 287.70 95.92 287.80 96.60 287.90 97.27 288.00 96.64 288.10 96.89 288.20 97.16 288.30 94.52 288.40 96.62 288.50 96.28 288.60 94.06 288.70 93.95 288.80 92.86 288.90 95.12 289.00 95.67 289.10 96.83 289.20 98.84 289.30 97.85 289.40 99.06 289.50 98.07 289.60 99.97 289.70 99.61 289.80 98.32 289.90 97.73 290.00 99.50 290.10 96.13 290.20 95.89 290.30 96.12 290.40 97.94 290.50 98.77 290.60 96.73 290.70 95.32 290.80 95.12 290.90 96.00 291.00 93.83 291.10 96.44 291.20 96.90 291.30 96.17 291.40 97.18 291.50 98.10 291.60 99.57 291.70 97.97 291.80 100.73 291.90 98.67 292.00 97.60 292.10 97.65 292.20 96.88 292.30 96.19 292.40 95.65 292.50 96.06 292.60 97.62 292.70 97.49 292.80 95.71 292.90 95.60 293.00 93.56 293.10 94.57 293.20 95.51 293.30 94.90 293.40 95.59 293.50 97.19 293.60 96.93 293.70 96.27 293.80 97.59 293.90 97.02 294.00 97.42 294.10 95.52 294.20 94.27 294.30 93.67 294.40 94.24 294.50 94.80 294.60 96.05 294.70 98.03 294.80 97.95 294.90 98.54 295.00 95.22 295.10 95.65 295.20 94.88 295.30 94.66 295.40 93.35 295.50 93.16 295.60 95.12 295.70 95.79 295.80 95.78 295.90 99.24 296.00 100.14 296.10 99.19 296.20 100.04 296.30 98.22 296.40 100.33 296.50 99.89 296.60 100.13 296.70 101.51 296.80 100.00 296.90 99.70 297.00 98.53 297.10 97.77 297.20 97.26 297.30 94.48 297.40 97.88 297.50 95.60 297.60 96.53 297.70 96.34 297.80 94.57 297.90 94.52 298.00 95.74 298.10 96.81 298.20 97.44 298.30 97.43 298.40 97.14 298.50 99.06 298.60 97.99 298.70 99.42 298.80 99.19 298.90 100.34 299.00 100.98 299.10 102.41 299.20 103.59 299.30 102.78 299.40 101.14 299.50 100.22 299.60 101.59 299.70 99.02 299.80 98.19 299.90 99.55 300.00 99.19 300.10 98.12 300.20 96.70 300.30 98.60 300.40 96.25 300.50 95.83 300.60 95.80 300.70 95.29 300.80 95.97 300.90 98.15 301.00 98.74 301.10 98.20 301.20 97.37 301.30 97.15 301.40 99.03 301.50 99.06 301.60 102.21 301.70 103.48 301.80 104.33 301.90 101.56 302.00 99.23 302.10 97.97 302.20 95.47 302.30 98.05 302.40 98.45 302.50 99.49 302.60 99.18 302.70 98.49 302.80 97.25 302.90 96.75 303.00 96.56 303.10 93.95 303.20 94.94 303.30 94.47 303.40 97.53 303.50 97.60 303.60 96.68 303.70 94.37 303.80 96.03 303.90 96.23 304.00 97.09 304.10 97.42 304.20 98.63 304.30 97.73 304.40 98.04 304.50 96.61 304.60 95.29 304.70 96.34 304.80 96.92 304.90 99.69 305.00 100.45 305.10 102.11 305.20 102.64 305.30 100.89 305.40 101.90 305.50 98.98 305.60 99.40 305.70 99.16 305.80 97.29 305.90 97.92 306.00 98.83 306.10 99.79 306.20 100.71 306.30 103.68 306.40 102.25 306.50 101.90 306.60 100.55 306.70 100.61 306.80 100.28 306.90 101.56 307.00 102.74 307.10 102.05 307.20 100.96 307.30 99.75 307.40 100.23 307.50 99.75 307.60 98.56 307.70 97.94 307.80 99.53 307.90 102.25 308.00 100.71 308.10 102.25 308.20 103.03 308.30 99.39 308.40 100.82 308.50 99.08 308.60 99.97 308.70 98.28 308.80 97.80 308.90 98.54 309.00 99.32 309.10 99.10 309.20 99.99 309.30 99.21 309.40 99.77 309.50 100.20 309.60 100.81 309.70 99.21 309.80 98.58 309.90 99.38 310.00 99.22 310.10 99.89 310.20 99.85 310.30 99.25 310.40 100.07 310.50 100.47 310.60 101.06 310.70 100.53 310.80 99.12 310.90 97.94 311.00 99.86 311.10 99.27 311.20 102.09 311.30 102.35 311.40 99.65 311.50 100.60 311.60 99.58 311.70 97.98 311.80 99.37 311.90 99.53 312.00 96.73 312.10 98.72 312.20 97.84 312.30 97.26 312.40 97.17 312.50 95.12 312.60 94.68 312.70 93.91 312.80 94.19 312.90 95.28 313.00 94.56 313.10 95.42 313.20 97.38 313.30 97.30 313.40 97.76 313.50 95.68 313.60 96.65 313.70 97.29 313.80 98.68 313.90 98.99 314.00 101.22 314.10 100.25 314.20 99.40 314.30 98.48 314.40 98.19 314.50 96.69 314.60 98.10 314.70 97.48 314.80 97.91 314.90 98.66 315.00 99.94 315.10 101.23 315.20 101.36 315.30 99.95 315.40 99.51 315.50 97.94 315.60 98.07 315.70 96.83 315.80 94.97 315.90 98.02 316.00 96.90 316.10 95.73 316.20 96.47 316.30 94.91 316.40 96.65 316.50 94.26 316.60 91.77 316.70 94.59 316.80 94.66 316.90 97.66 317.00 95.70 317.10 94.61 317.20 96.68 317.30 96.63 317.40 97.28 317.50 96.45 317.60 99.48 317.70 101.32 317.80 97.74 317.90 100.03 318.00 98.36 318.10 100.88 318.20 99.06 318.30 98.53 318.40 99.04 318.50 97.87 318.60 96.21 318.70 97.07 318.80 95.96 318.90 94.80 319.00 98.23 319.10 96.08 319.20 96.31 319.30 97.69 319.40 96.50 319.50 97.20 319.60 98.49 319.70 99.00 319.80 99.03 319.90 98.92 320.00 96.26 320.10 95.91 320.20 94.79 320.30 92.06 320.40 92.56 320.50 92.04 320.60 94.51 320.70 94.64 320.80 94.91 320.90 94.37 321.00 96.33 321.10 95.53 321.20 96.85 321.30 96.10 321.40 95.46 321.50 96.46 321.60 95.66 321.70 93.86 321.80 94.82 321.90 93.87 322.00 94.46 322.10 95.45 322.20 95.26 322.30 95.74 322.40 95.99 322.50 97.50 322.60 97.47 322.70 95.36 322.80 96.33 322.90 94.13 323.00 93.80 323.10 94.67 323.20 94.84 323.30 97.45 323.40 96.04 323.50 94.27 323.60 95.95 323.70 93.82 323.80 93.44 323.90 91.60 324.00 95.77 324.10 96.18 324.20 96.74 324.30 97.32 324.40 98.61 324.50 97.70 324.60 99.23 324.70 98.27 324.80 97.98 324.90 98.61 325.00 97.36 325.10 95.17 325.20 97.23 325.30 97.54 325.40 97.77 325.50 99.66 325.60 98.11 325.70 96.28 325.80 95.90 325.90 97.78 326.00 94.83 326.10 96.40 326.20 96.75 326.30 96.78 326.40 95.86 326.50 97.51 326.60 98.76 326.70 99.93 326.80 97.80 326.90 96.68 327.00 98.97 327.10 99.75 327.20 100.25 327.30 100.54 327.40 100.38 327.50 98.94 327.60 98.43 327.70 95.39 327.80 96.35 327.90 96.10 328.00 95.23 328.10 96.42 328.20 96.25 328.30 95.64 328.40 95.80 328.50 93.59 328.60 94.25 328.70 94.48 328.80 94.89 328.90 96.55 329.00 95.85 329.10 96.75 329.20 99.10 329.30 100.07 329.40 102.35 329.50 100.76 329.60 97.99 329.70 97.99 329.80 94.98 329.90 92.89 330.00 95.05 330.10 92.71 330.20 93.74 330.30 94.28 330.40 96.08 330.50 95.38 330.60 96.89 330.70 94.84 330.80 95.35 330.90 98.73 331.00 99.62 331.10 99.60 331.20 98.69 331.30 97.73 331.40 96.05 331.50 97.14 331.60 96.07 331.70 95.89 331.80 95.74 331.90 96.31 332.00 95.78 332.10 95.94 332.20 93.53 332.30 94.36 332.40 95.18 332.50 92.06 332.60 91.72 332.70 93.15 332.80 93.81 332.90 94.12 333.00 92.70 333.10 95.21 333.20 93.75 333.30 94.03 333.40 96.51 333.50 97.01 333.60 99.26 333.70 102.35 333.80 98.86 333.90 97.45 334.00 94.64 334.10 93.79 334.20 93.35 334.30 93.78 334.40 93.22 334.50 93.55 334.60 93.75 334.70 92.27 334.80 91.13 334.90 90.41 335.00 91.28 335.10 90.31 335.20 91.84 335.30 92.51 335.40 91.91 335.50 93.48 335.60 92.22 335.70 95.61 335.80 95.43 335.90 94.96 336.00 94.90 336.10 97.09 336.20 95.86 336.30 96.17 336.40 97.17 336.50 96.94 336.60 96.81 336.70 98.49 336.80 95.50 336.90 95.33 337.00 93.27 337.10 91.86 337.20 92.98 337.30 91.61 337.40 94.16 337.50 91.86 337.60 93.99 337.70 90.76 337.80 91.84 337.90 89.77 338.00 89.19 338.10 90.27 338.20 91.90 338.30 91.37 338.40 94.81 338.50 94.25 338.60 96.26 338.70 95.57 338.80 94.38 338.90 90.24 339.00 91.33 339.10 88.42 339.20 86.43 339.30 86.38 339.40 86.74 339.50 88.01 339.60 90.70 339.70 90.76 339.80 89.98 339.90 90.46 340.00 92.28 340.10 90.52 340.20 90.23 340.30 92.08 340.40 91.89 340.50 92.13 340.60 92.16 340.70 91.50 340.80 91.12 340.90 91.01 341.00 90.52 341.10 90.57 341.20 90.69 341.30 90.34 341.40 90.29 341.50 89.14 341.60 88.06 341.70 89.23 341.80 88.17 341.90 87.77 342.00 87.44 342.10 86.39 342.20 87.09 342.30 88.58 342.40 89.36 342.50 89.02 342.60 90.02 342.70 89.33 342.80 88.57 342.90 89.68 343.00 91.95 343.10 90.27 343.20 92.54 343.30 93.35 343.40 93.75 343.50 90.97 343.60 92.83 343.70 90.43 343.80 89.41 343.90 88.87 344.00 89.78 344.10 89.88 344.20 90.28 344.30 92.20 344.40 91.00 344.50 91.09 344.60 92.40 344.70 92.53 344.80 93.10 344.90 91.37 345.00 93.56 345.10 93.87 345.20 94.44 345.30 90.89 345.40 91.80 345.50 90.93 345.60 89.34 345.70 89.93 345.80 92.06 345.90 90.36 346.00 89.60 346.10 90.50 346.20 90.08 346.30 89.55 346.40 87.03 346.50 87.10 346.60 87.50 346.70 85.40 346.80 84.73 346.90 86.19 347.00 87.38 347.10 85.47 347.20 84.29 347.30 84.71 347.40 84.42 347.50 84.05 347.60 84.94 347.70 85.37 347.80 85.98 347.90 87.87 348.00 87.01 348.10 88.36 348.20 88.46 348.30 92.09 348.40 91.05 348.50 90.20 348.60 90.69 348.70 90.64 348.80 88.87 348.90 89.02 349.00 88.34 349.10 88.45 349.20 85.68 349.30 84.42 349.40 83.00 349.50 83.88 349.60 85.77 349.70 86.53 349.80 88.55 349.90 86.95 350.00 88.45 350.10 87.72 350.20 87.47 350.30 85.65 350.40 86.51 350.50 89.05 350.60 90.36 350.70 90.00 350.80 91.22 350.90 89.51 351.00 88.80 351.10 87.81 351.20 88.54 351.30 87.67 351.40 87.14 351.50 87.05 351.60 87.84 351.70 87.62 351.80 86.58 351.90 88.88 352.00 88.37 352.10 88.95 352.20 91.07 352.30 91.46 352.40 89.65 352.50 89.40 352.60 87.14 352.70 86.71 352.80 85.23 352.90 88.35 353.00 85.54 353.10 87.72 353.20 85.36 353.30 84.24 353.40 83.95 353.50 83.45 353.60 84.74 353.70 86.75 353.80 86.46 353.90 87.90 354.00 86.61 354.10 87.46 354.20 86.28 354.30 85.04 354.40 84.69 354.50 84.16 354.60 85.04 354.70 85.87 354.80 85.70 354.90 86.13 355.00 87.65 355.10 85.43 355.20 86.41 355.30 89.54 355.40 86.89 355.50 89.88 355.60 92.29 355.70 89.12 355.80 91.72 355.90 85.82 356.00 88.21 356.10 88.09 356.20 87.49 356.30 86.43 356.40 86.92 356.50 85.76 356.60 87.27 356.70 86.00 356.80 87.58 356.90 89.54 357.00 88.46 357.10 89.25 357.20 88.84 357.30 86.60 357.40 87.97 357.50 86.54 357.60 84.83 357.70 86.11 357.80 85.81 357.90 86.74 358.00 88.23 358.10 88.35 358.20 90.69 358.30 89.20 358.40 89.81 358.50 87.98 358.60 87.88 358.70 85.72 358.80 85.26 358.90 84.64 359.00 86.15 359.10 86.81 359.20 88.44 359.30 88.25 359.40 87.88 359.50 88.02 359.60 89.12 359.70 88.27 359.80 88.95 359.90 87.82 360.00 85.55 360.10 85.02 360.20 86.11 360.30 84.29 360.40 82.95 360.50 83.36 360.60 81.08 360.70 80.57 360.80 81.62 360.90 81.56 361.00 85.40 361.10 84.82 361.20 86.56 361.30 86.05 361.40 86.73 361.50 85.38 361.60 84.82 361.70 82.67 361.80 83.83 361.90 82.52 362.00 84.08 362.10 83.53 362.20 82.39 362.30 83.45 362.40 81.30 362.50 80.56 362.60 79.66 362.70 80.06 362.80 81.79 362.90 82.61 363.00 81.14 363.10 84.39 363.20 84.64 363.30 85.54 363.40 85.58 363.50 83.60 363.60 83.10 363.70 85.23 363.80 83.25 363.90 81.15 364.00 82.02 364.10 80.66 364.20 78.61 364.30 78.65 364.40 79.97 364.50 82.35 364.60 82.77 364.70 82.69 364.80 83.18 364.90 84.09 365.00 82.33 365.10 84.64 365.20 84.86 365.30 85.19 365.40 86.51 365.50 86.35 365.60 85.62 365.70 84.87 365.80 86.07 365.90 88.65 366.00 86.21 366.10 86.63 366.20 88.33 366.30 87.77 366.40 86.80 366.50 84.52 366.60 85.58 366.70 83.27 366.80 83.03 366.90 84.31 367.00 86.27 367.10 88.52 367.20 89.95 367.30 88.18 367.40 88.23 367.50 86.69 367.60 87.18 367.70 85.77 367.80 86.29 367.90 88.27 368.00 85.84 368.10 86.35 368.20 86.05 368.30 85.23 368.40 85.04 368.50 86.64 368.60 82.19 368.70 84.35 368.80 84.70 368.90 81.79 369.00 82.86 369.10 84.64 369.20 86.74 369.30 85.14 369.40 86.46 369.50 86.25 369.60 86.11 369.70 84.95 369.80 84.59 369.90 82.80 370.00 83.28 370.10 83.61 370.20 84.25 370.30 85.13 370.40 85.54 370.50 84.21 370.60 86.20 370.70 84.51 370.80 84.03 370.90 86.91 371.00 85.89 371.10 88.28 371.20 89.84 371.30 91.55 371.40 92.95 371.50 91.44 371.60 90.67 371.70 91.42 371.80 87.25 371.90 90.10 372.00 91.20 372.10 90.62 372.20 90.43 372.30 92.99 372.40 90.10 372.50 91.69 372.60 89.68 372.70 89.05 372.80 89.48 372.90 89.87 373.00 91.57 373.10 92.12 373.20 93.08 373.30 94.32 373.40 94.93 373.50 93.38 373.60 90.68 373.70 89.30 373.80 88.59 373.90 86.95 374.00 86.75 374.10 87.74 374.20 90.03 374.30 92.31 374.40 94.42 374.50 94.33 374.60 96.23 374.70 93.65 374.80 95.95 374.90 93.33 375.00 92.24 375.10 90.70 375.20 88.37 375.30 90.86 375.40 91.25 375.50 93.37 375.60 91.06 375.70 94.69 375.80 93.42 375.90 94.96 376.00 92.45 376.10 94.38 376.20 93.46 376.30 93.91 376.40 92.89 376.50 91.30 376.60 93.07 376.70 92.93 376.80 92.93 376.90 93.25 377.00 92.88 377.10 91.41 377.20 89.76 377.30 89.27 377.40 91.27 377.50 90.61 377.60 90.66 377.70 90.77 377.80 91.78 377.90 92.36 378.00 92.62 378.10 92.62 378.20 95.24 378.30 93.54 378.40 92.20 378.50 90.91 378.60 90.76 378.70 91.93 378.80 92.70 378.90 92.55 379.00 93.53 379.10 92.79 379.20 91.43 379.30 92.95 379.40 91.47 379.50 92.72 379.60 89.57 379.70 90.82 379.80 92.42 379.90 92.09 380.00 91.07 380.10 91.30 380.20 91.54 380.30 90.92 380.40 89.69 380.50 91.54 380.60 92.39 380.70 92.65 380.80 93.24 380.90 93.69 381.00 94.42 381.10 95.38 381.20 95.30 381.30 96.35 381.40 96.35 381.50 96.07 381.60 95.95 381.70 96.85 381.80 95.88 381.90 96.23 382.00 93.36 382.10 93.12 382.20 92.67 382.30 91.51 382.40 89.20 382.50 89.16 382.60 90.32 382.70 90.19 382.80 92.37 382.90 93.74 383.00 93.25 383.10 95.81 383.20 93.73 383.30 93.42 383.40 93.00 383.50 92.19 383.60 92.82 383.70 92.07 383.80 93.78 383.90 93.21 384.00 93.52 384.10 92.86 384.20 91.49 384.30 92.18 384.40 90.81 384.50 91.74 384.60 90.41 384.70 92.60 384.80 92.43 384.90 93.19 385.00 93.31 385.10 93.95 385.20 94.81 385.30 96.03 385.40 95.54 385.50 97.60 385.60 99.87 385.70 96.42 385.80 94.91 385.90 92.38 386.00 89.84 386.10 91.07 386.20 90.28 386.30 91.59 386.40 94.07 386.50 95.77 386.60 92.77 386.70 94.49 386.80 94.07 386.90 93.84 387.00 93.88 387.10 93.79 387.20 95.83 387.30 95.55 387.40 95.90 387.50 97.30 387.60 96.94 387.70 95.88 387.80 94.84 387.90 94.69 388.00 92.13 388.10 90.38 388.20 88.88 388.30 88.54 388.40 88.38 388.50 90.15 388.60 90.93 388.70 88.98 388.80 90.96 388.90 91.38 389.00 90.31 389.10 88.74 389.20 90.49 389.30 88.43 389.40 87.66 389.50 87.50 389.60 88.16 389.70 88.19 389.80 89.19 389.90 89.16 390.00 88.99 390.10 91.38 390.20 93.06 390.30 95.54 390.40 94.65 390.50 95.47 390.60 95.56 390.70 94.46 390.80 94.87 390.90 94.30 391.00 93.95 391.10 93.98 391.20 94.89 391.30 94.07 391.40 92.03 391.50 92.70 391.60 90.82 391.70 91.97 391.80 90.54 391.90 89.21 392.00 90.58 392.10 89.69 392.20 90.22 392.30 90.84 392.40 93.46 392.50 93.99 392.60 94.56 392.70 94.75 392.80 95.87 392.90 93.66 393.00 92.85 393.10 94.09 393.20 93.71 393.30 92.70 393.40 91.25 393.50 93.18 393.60 95.19 393.70 95.56 393.80 97.86 393.90 96.15 394.00 97.48 394.10 95.46 394.20 95.84 394.30 92.70 394.40 91.80 394.50 88.57 394.60 86.87 394.70 87.42 394.80 88.97 394.90 89.68 395.00 93.25 395.10 95.13 395.20 95.17 395.30 94.70 395.40 96.23 395.50 94.73 395.60 95.22 395.70 92.75 395.80 91.47 395.90 89.23 396.00 87.78 396.10 89.76 396.20 90.32 396.30 92.53 396.40 93.15 396.50 93.00 396.60 93.42 396.70 95.22 396.80 93.00 396.90 92.16 397.00 91.74 397.10 90.29 397.20 89.87 397.30 91.86 397.40 94.07 397.50 92.03 397.60 94.22 397.70 94.32 397.80 93.76 397.90 93.12 398.00 92.43 398.10 93.09 398.20 91.22 398.30 91.62 398.40 92.37 398.50 93.10 398.60 93.48 398.70 95.17 398.80 94.75 398.90 95.38 399.00 96.34 399.10 96.65 399.20 97.98 399.30 97.79 399.40 97.83 399.50 95.93 399.60 94.54 399.70 95.37 399.80 95.67 399.90 93.66 400.00 96.81 400.10 96.18 400.20 97.03 400.30 99.05 400.40 99.12 400.50 99.49 400.60 102.32 400.70 98.50 400.80 98.51 400.90 98.48 401.00 96.10 401.10 97.11 401.20 98.46 401.30 101.34 401.40 99.44 401.50 100.65 401.60 100.32 401.70 98.58 401.80 95.74 401.90 95.51 402.00 93.96 402.10 93.60 402.20 93.77 402.30 94.43 402.40 94.66 402.50 95.34 402.60 94.85 402.70 96.49 402.80 96.89 402.90 96.39 403.00 97.15 403.10 96.73 403.20 99.27 403.30 100.23 403.40 98.36 403.50 99.48 403.60 98.73 403.70 99.78 403.80 98.73 403.90 98.11 404.00 97.53 404.10 97.55 404.20 96.55 404.30 98.11 404.40 96.92 404.50 98.10 404.60 97.29 404.70 97.30 404.80 95.44 404.90 95.52 405.00 94.00 405.10 96.35 405.20 96.57 405.30 97.97 405.40 98.74 405.50 100.07 405.60 97.96 405.70 100.61 405.80 99.53 405.90 101.58 406.00 98.29 406.10 98.73 406.20 97.70 406.30 100.25 406.40 97.56 406.50 98.89 406.60 98.37 406.70 97.12 406.80 97.58 406.90 97.62 407.00 96.01 407.10 96.17 407.20 94.14 407.30 95.04 407.40 95.67 407.50 97.31 407.60 99.70 407.70 99.31 407.80 99.40 407.90 98.27 408.00 97.74 408.10 99.35 408.20 96.63 408.30 96.59 408.40 97.87 408.50 98.13 408.60 100.83 408.70 97.50 408.80 100.47 408.90 100.72 409.00 98.75 409.10 98.86 409.20 99.51 409.30 100.27 409.40 98.39 409.50 98.31 409.60 101.11 409.70 102.11 409.80 100.95 409.90 99.48 410.00 102.88 410.10 101.50 410.20 102.59 410.30 101.11 410.40 100.38 410.50 99.89 410.60 101.19 410.70 101.50 410.80 99.74 410.90 102.28 411.00 106.18 411.10 105.71 411.20 106.06 411.30 107.35 411.40 106.51 411.50 105.79 411.60 104.71 411.70 104.12 411.80 103.22 411.90 102.83 412.00 101.03 412.10 100.74 412.20 100.11 412.30 100.65 412.40 100.52 412.50 101.02 412.60 102.54 412.70 103.36 412.80 104.92 412.90 104.72 413.00 105.16 413.10 104.04 413.20 102.07 413.30 101.01 413.40 102.76 413.50 102.77 413.60 102.56 413.70 101.65 413.80 101.19 413.90 102.68 414.00 103.55 414.10 104.22 414.20 102.98 414.30 105.71 414.40 105.08 414.50 106.80 414.60 107.56 414.70 107.19 414.80 108.12 414.90 107.52 415.00 108.83 415.10 107.47 415.20 108.92 415.30 108.01 415.40 108.21 415.50 107.13 415.60 105.99 415.70 106.95 415.80 106.37 415.90 107.78 416.00 108.17 416.10 107.66 416.20 109.21 416.30 109.92 416.40 109.27 416.50 109.84 416.60 110.08 416.70 107.70 416.80 107.21 416.90 105.55 417.00 107.54 417.10 107.34 417.20 105.86 417.30 107.99 417.40 107.78 417.50 106.11 417.60 105.96 417.70 104.95 417.80 106.20 417.90 104.79 418.00 106.51 418.10 109.18 418.20 108.11 418.30 109.10 418.40 108.63 418.50 108.36 418.60 110.17 418.70 111.35 418.80 110.85 418.90 112.87 419.00 113.81 419.10 113.02 419.20 110.01 419.30 109.93 419.40 108.79 419.50 111.80 419.60 112.62 419.70 113.92 419.80 113.73 419.90 113.06 420.00 113.10 420.10 112.05 420.20 110.11 420.30 110.35 420.40 110.96 420.50 111.38 420.60 111.04 420.70 110.87 420.80 113.33 420.90 114.50 421.00 114.45 421.10 113.64 421.20 112.75 421.30 113.35 421.40 112.01 421.50 111.50 421.60 110.24 421.70 111.04 421.80 112.61 421.90 112.43 422.00 113.06 422.10 114.76 422.20 115.45 422.30 113.80 422.40 113.66 422.50 110.78 422.60 109.48 422.70 107.85 422.80 107.93 422.90 109.22 423.00 108.98 423.10 110.10 423.20 110.83 423.30 110.93 423.40 111.50 423.50 112.63 423.60 113.63 423.70 113.95 423.80 114.48 423.90 114.68 424.00 114.19 424.10 114.22 424.20 113.12 424.30 113.72 424.40 109.77 424.50 110.32 424.60 111.73 424.70 108.59 424.80 107.50 424.90 109.25 425.00 111.17 425.10 110.61 425.20 112.05 425.30 112.33 425.40 112.39 425.50 115.59 425.60 112.84 425.70 112.32 425.80 112.11 425.90 112.08 426.00 111.29 426.10 110.80 426.20 109.42 426.30 108.56 426.40 111.18 426.50 111.28 426.60 112.16 426.70 111.69 426.80 112.53 426.90 112.41 427.00 113.05 427.10 111.80 427.20 113.17 427.30 113.39 427.40 113.42 427.50 115.01 427.60 115.95 427.70 117.76 427.80 113.57 427.90 114.43 428.00 112.14 428.10 112.94 428.20 114.12 428.30 112.81 428.40 113.53 428.50 112.67 428.60 115.20 428.70 114.94 428.80 115.85 428.90 114.36 429.00 114.89 429.10 116.19 429.20 114.38 429.30 113.65 429.40 113.99 429.50 112.59 429.60 114.45 429.70 113.81 429.80 114.55 429.90 114.06 430.00 115.68 430.10 115.14 430.20 117.18 430.30 117.16 430.40 116.49 430.50 115.66 430.60 115.56 430.70 112.99 430.80 117.06 430.90 117.01 431.00 118.29 431.10 118.90 431.20 117.04 431.30 116.95 431.40 117.17 431.50 116.99 431.60 114.29 431.70 113.81 431.80 115.98 431.90 113.92 432.00 116.63 432.10 114.49 432.20 113.28 432.30 114.59 432.40 114.86 432.50 111.68 432.60 114.50 432.70 113.31 432.80 116.07 432.90 116.03 433.00 116.59 433.10 119.96 433.20 119.80 433.30 119.74 433.40 118.29 433.50 116.25 433.60 115.35 433.70 115.15 433.80 115.41 433.90 114.98 434.00 115.54 434.10 113.70 434.20 117.00 434.30 117.67 434.40 120.86 434.50 120.09 434.60 118.37 434.70 118.57 434.80 116.22 434.90 116.05 435.00 114.68 435.10 117.72 435.20 117.02 435.30 115.49 435.40 116.56 435.50 117.53 435.60 116.75 435.70 115.96 435.80 114.17 435.90 113.68 436.00 114.05 436.10 115.61 436.20 114.85 436.30 115.40 436.40 118.26 436.50 116.52 436.60 118.40 436.70 117.73 436.80 118.38 436.90 119.24 437.00 117.43 437.10 116.48 437.20 113.93 437.30 113.11 437.40 113.76 437.50 115.76 437.60 116.84 437.70 118.87 437.80 118.27 437.90 118.74 438.00 119.56 438.10 119.66 438.20 120.79 438.30 121.12 438.40 123.56 438.50 120.69 438.60 121.10 438.70 118.36 438.80 120.44 438.90 118.63 439.00 120.41 439.10 118.32 439.20 119.46 439.30 121.95 439.40 121.39 439.50 123.41 439.60 124.14 439.70 123.00 439.80 124.32 439.90 123.39 440.00 120.96 440.10 121.43 440.20 119.63 440.30 118.39 440.40 118.25 440.50 116.58 440.60 118.20 440.70 115.83 440.80 119.12 440.90 120.58 441.00 119.14 441.10 120.03 441.20 122.18 441.30 121.33 441.40 122.20 441.50 122.65 441.60 120.70 441.70 119.48 441.80 117.38 441.90 119.42 442.00 118.28 442.10 120.17 442.20 120.88 442.30 119.48 442.40 122.28 442.50 121.56 442.60 120.67 442.70 118.16 442.80 118.91 442.90 119.64 443.00 120.60 443.10 120.81 443.20 123.06 443.30 123.27 443.40 122.46 443.50 120.74 443.60 121.42 443.70 119.49 443.80 117.04 443.90 120.02 444.00 121.63 444.10 123.64 444.20 123.58 444.30 124.01 444.40 123.71 444.50 124.97 444.60 124.04 444.70 124.08 444.80 124.84 444.90 126.89 445.00 126.79 445.10 126.64 445.20 127.98 445.30 126.03 445.40 126.23 445.50 125.48 445.60 126.13 445.70 126.05 445.80 124.74 445.90 126.20 446.00 126.28 446.10 130.04 446.20 129.77 446.30 129.64 446.40 127.12 446.50 124.57 446.60 126.96 446.70 125.71 446.80 125.37 446.90 124.30 447.00 123.83 447.10 122.73 447.20 119.81 447.30 122.64 447.40 122.28 447.50 123.43 447.60 126.50 447.70 126.86 447.80 125.81 447.90 124.49 448.00 126.35 448.10 126.72 448.20 126.21 448.30 124.37 448.40 123.88 448.50 122.55 448.60 123.55 448.70 125.07 448.80 126.23 448.90 125.63 449.00 126.78 449.10 126.96 449.20 125.36 449.30 125.05 449.40 126.45 449.50 124.08 449.60 124.11 449.70 123.63 449.80 124.76 449.90 123.88 450.00 126.11 450.10 127.90 450.20 128.82 450.30 128.05 450.40 128.17 450.50 128.18 450.60 128.17 450.70 129.14 450.80 130.42 450.90 129.42 451.00 130.43 451.10 128.18 451.20 126.93 451.30 127.09 451.40 125.97 451.50 126.01 451.60 128.29 451.70 126.80 451.80 126.81 451.90 127.28 452.00 126.99 452.10 125.03 452.20 126.31 452.30 125.88 452.40 125.95 452.50 126.77 452.60 125.50 452.70 126.50 452.80 127.43 452.90 128.10 453.00 128.04 453.10 129.51 453.20 131.75 453.30 133.40 453.40 132.83 453.50 132.07 453.60 129.36 453.70 128.24 453.80 128.02 453.90 127.43 454.00 126.58 454.10 127.86 454.20 125.54 454.30 124.19 454.40 124.83 454.50 126.23 454.60 125.35 454.70 127.09 454.80 126.28 454.90 126.36 455.00 126.02 455.10 125.78 455.20 126.83 455.30 123.41 455.40 125.66 455.50 124.04 455.60 125.50 455.70 127.23 455.80 127.81 455.90 128.26 456.00 126.65 456.10 128.23 456.20 126.59 456.30 129.42 456.40 126.51 456.50 126.47 456.60 124.90 456.70 125.94 456.80 125.64 456.90 128.12 457.00 127.44 457.10 128.61 457.20 127.72 457.30 127.90 457.40 129.30 457.50 126.63 457.60 125.25 457.70 126.61 457.80 125.28 457.90 126.57 458.00 128.45 458.10 127.56 458.20 129.29 458.30 127.90 458.40 130.26 458.50 130.76 458.60 129.79 458.70 130.67 458.80 130.05 458.90 130.36 459.00 130.60 459.10 127.64 459.20 129.47 459.30 127.47 459.40 127.90 459.50 127.08 459.60 130.59 459.70 128.78 459.80 129.84 459.90 129.90 460.00 132.36 460.10 130.40 460.20 132.99 460.30 134.09 460.40 130.90 460.50 130.39 460.60 130.12 460.70 128.12 460.80 128.89 460.90 129.63 461.00 128.06 461.10 127.34 461.20 125.81 461.30 125.53 461.40 124.92 461.50 126.72 461.60 126.60 461.70 126.27 461.80 124.82 461.90 127.59 462.00 127.82 462.10 126.69 462.20 126.10 462.30 127.25 462.40 129.49 462.50 128.08 462.60 128.68 462.70 129.30 462.80 129.95 462.90 127.97 463.00 127.04 463.10 125.77 463.20 126.87 463.30 125.93 463.40 125.76 463.50 125.47 463.60 126.90 463.70 129.02 463.80 128.57 463.90 130.03 464.00 129.56 464.10 129.10 464.20 128.68 464.30 127.79 464.40 125.82 464.50 125.68 464.60 128.85 464.70 126.43 464.80 127.85 464.90 130.01 465.00 129.18 465.10 128.60 465.20 128.15 465.30 129.83 465.40 130.75 465.50 131.59 465.60 130.88 465.70 132.27 465.80 130.08 465.90 130.68 466.00 129.43 466.10 129.72 466.20 130.09 466.30 129.60 466.40 126.93 466.50 128.14 466.60 125.75 466.70 125.07 466.80 126.68 466.90 126.35 467.00 128.50 467.10 129.59 467.20 129.29 467.30 129.96 467.40 129.20 467.50 129.39 467.60 127.22 467.70 127.68 467.80 126.00 467.90 125.48 468.00 124.93 468.10 125.41 468.20 124.64 468.30 125.59 468.40 127.61 468.50 129.27 468.60 130.45 468.70 131.45 468.80 132.34 468.90 132.14 469.00 132.19 469.10 131.16 469.20 130.73 469.30 130.87 469.40 132.06 469.50 132.53 469.60 132.90 469.70 132.86 469.80 132.57 469.90 131.89 470.00 131.68 470.10 132.09 470.20 132.06 470.30 132.36 470.40 133.87 470.50 133.07 470.60 131.76 470.70 130.85 470.80 132.88 470.90 130.16 471.00 131.23 471.10 132.41 471.20 131.88 471.30 133.02 471.40 133.79 471.50 132.27 471.60 131.25 471.70 130.58 471.80 130.58 471.90 132.11 472.00 131.87 472.10 132.40 472.20 133.64 472.30 133.79 472.40 132.51 472.50 132.05 472.60 128.86 472.70 130.98 472.80 131.71 472.90 130.80 473.00 129.32 473.10 128.84 473.20 130.66 473.30 130.48 473.40 132.97 473.50 132.79 473.60 133.44 473.70 132.85 473.80 129.19 473.90 131.46 474.00 131.58 474.10 132.07 474.20 133.36 474.30 132.58 474.40 132.58 474.50 129.14 474.60 130.47 474.70 130.41 474.80 128.20 474.90 127.22 475.00 125.79 475.10 123.81 475.20 126.05 475.30 126.84 475.40 127.40 475.50 129.26 475.60 127.81 475.70 127.11 475.80 127.41 475.90 124.63 476.00 125.53 476.10 126.94 476.20 127.41 476.30 129.34 476.40 129.15 476.50 131.11 476.60 130.90 476.70 130.27 476.80 130.15 476.90 131.97 477.00 133.06 477.10 132.29 477.20 134.14 477.30 133.53 477.40 132.53 477.50 133.27 477.60 132.46 477.70 130.44 477.80 131.73 477.90 130.66 478.00 130.55 478.10 127.86 478.20 128.08 478.30 126.21 478.40 125.39 478.50 125.22 478.60 124.97 478.70 128.81 478.80 128.00 478.90 129.70 479.00 128.44 479.10 127.92 479.20 128.22 479.30 126.14 479.40 127.04 479.50 125.17 479.60 128.02 479.70 128.18 479.80 129.94 479.90 131.68 480.00 132.91 480.10 135.02 480.20 131.84 480.30 132.61 480.40 130.98 480.50 131.73 480.60 129.36 480.70 130.10 480.80 129.87 480.90 131.37 481.00 132.22 481.10 131.49 481.20 132.43 481.30 130.82 481.40 131.82 481.50 131.76 481.60 130.27 481.70 131.71 481.80 128.76 481.90 129.35 482.00 130.24 482.10 131.53 482.20 131.60 482.30 131.03 482.40 130.56 482.50 130.79 482.60 129.23 482.70 128.08 482.80 128.09 482.90 131.11 483.00 127.08 483.10 129.13 483.20 131.46 483.30 131.43 483.40 131.11 483.50 132.71 483.60 133.25 483.70 132.70 483.80 129.93 483.90 130.56 484.00 129.37 484.10 130.13 484.20 130.38 484.30 128.30 484.40 126.62 484.50 127.59 484.60 128.15 484.70 126.48 484.80 125.60 484.90 128.22 485.00 125.79 485.10 128.20 485.20 127.54 485.30 128.77 485.40 129.08 485.50 130.60 485.60 129.38 485.70 130.72 485.80 130.75 485.90 133.61 486.00 133.46 486.10 133.24 486.20 130.88 486.30 130.50 486.40 130.74 486.50 128.65 486.60 129.35 486.70 129.24 486.80 128.43 486.90 127.32 487.00 129.22 487.10 127.65 487.20 127.56 487.30 124.03 487.40 123.52 487.50 122.88 487.60 124.80 487.70 127.31 487.80 127.66 487.90 127.90 488.00 128.57 488.10 129.10 488.20 128.12 488.30 128.72 488.40 127.91 488.50 124.93 488.60 125.67 488.70 126.35 488.80 125.09 488.90 126.14 489.00 126.55 489.10 127.48 489.20 129.06 489.30 126.85 489.40 124.86 489.50 121.66 489.60 123.13 489.70 123.11 489.80 124.47 489.90 128.06 490.00 128.37 490.10 125.96 490.20 128.41 490.30 128.01 490.40 126.78 490.50 127.20 490.60 124.13 490.70 123.56 490.80 122.40 490.90 121.75 491.00 123.32 491.10 122.18 491.20 123.20 491.30 124.23 491.40 126.11 491.50 126.48 491.60 127.75 491.70 126.29 491.80 125.27 491.90 125.08 492.00 124.67 492.10 122.90 492.20 123.09 492.30 124.24 492.40 122.87 492.50 124.22 492.60 126.19 492.70 125.17 492.80 125.56 492.90 125.28 493.00 126.57 493.10 126.61 493.20 126.67 493.30 127.55 493.40 129.35 493.50 129.69 493.60 126.94 493.70 127.37 493.80 126.65 493.90 126.38 494.00 125.40 494.10 124.96 494.20 125.06 494.30 124.27 494.40 126.64 494.50 126.93 494.60 128.69 494.70 128.15 494.80 127.76 494.90 126.34 495.00 125.33 495.10 125.98 495.20 124.39 495.30 125.40 495.40 124.60 495.50 126.30 495.60 125.29 495.70 125.84 495.80 125.07 495.90 125.54 496.00 125.66 496.10 126.30 496.20 128.16 496.30 127.59 496.40 126.80 496.50 126.00 496.60 125.13 496.70 125.49 496.80 126.95 496.90 127.18 497.00 127.12 497.10 127.75 497.20 127.51 497.30 126.38 497.40 126.15 497.50 127.38 497.60 126.18 497.70 126.15 497.80 123.67 497.90 122.68 498.00 123.24 498.10 122.07 498.20 121.70 498.30 122.53 498.40 121.48 498.50 119.86 498.60 118.68 498.70 116.72 498.80 118.55 498.90 118.77 499.00 119.60 499.10 119.61 499.20 120.74 499.30 121.24 499.40 121.15 499.50 121.58 499.60 120.05 499.70 117.67 499.80 117.72 499.90 117.49 500.00 118.60 500.10 120.22 500.20 120.48 500.30 119.98 500.40 120.76 500.50 119.41 500.60 118.02 500.70 117.23 500.80 116.93 500.90 119.00 501.00 117.16 501.10 120.11 501.20 120.83 501.30 119.93 501.40 120.64 501.50 120.72 501.60 121.84 501.70 122.95 501.80 121.62 501.90 121.76 502.00 121.19 502.10 119.68 502.20 119.39 502.30 118.96 502.40 119.15 502.50 117.14 502.60 117.81 502.70 116.93 502.80 115.28 502.90 117.29 503.00 114.46 503.10 115.10 503.20 116.67 503.30 115.22 503.40 116.79 503.50 116.30 503.60 116.19 503.70 116.29 503.80 116.05 503.90 116.10 504.00 115.78 504.10 116.62 504.20 116.57 504.30 116.11 504.40 118.02 504.50 116.85 504.60 116.65 504.70 118.51 504.80 118.22 504.90 118.09 505.00 118.94 505.10 119.43 505.20 117.79 505.30 119.22 505.40 117.70 505.50 118.32 505.60 117.05 505.70 118.32 505.80 117.01 505.90 115.34 506.00 115.96 506.10 115.21 506.20 117.10 506.30 118.31 506.40 118.81 506.50 116.33 506.60 116.39 506.70 115.58 506.80 113.83 506.90 113.88 507.00 111.48 507.10 113.62 507.20 113.08 507.30 114.35 507.40 114.97 507.50 115.12 507.60 113.88 507.70 113.64 507.80 111.48 507.90 110.31 508.00 111.31 508.10 111.42 508.20 110.26 508.30 111.19 508.40 112.01 508.50 112.78 508.60 112.65 508.70 112.83 508.80 110.90 508.90 112.82 509.00 113.39 509.10 113.42 509.20 113.76 509.30 113.49 509.40 115.59 509.50 115.65 509.60 114.55 509.70 113.62 509.80 115.83 509.90 112.97 510.00 114.02 510.10 114.14 510.20 111.06 510.30 111.89 510.40 111.41 510.50 112.63 510.60 112.90 510.70 114.81 510.80 113.62 510.90 112.44 511.00 112.82 511.10 110.92 511.20 110.44 511.30 113.27 511.40 111.36 511.50 112.50 511.60 113.83 511.70 113.68 511.80 113.06 511.90 114.89 512.00 112.21 512.10 111.41 512.20 110.55 512.30 108.99 512.40 108.77 512.50 109.81 512.60 111.75 512.70 110.25 512.80 110.67 512.90 109.06 513.00 110.81 513.10 110.18 513.20 111.98 513.30 110.53 513.40 110.21 513.50 109.54 513.60 108.54 513.70 107.16 513.80 108.44 513.90 106.06 514.00 105.62 514.10 105.80 514.20 105.47 514.30 106.83 514.40 107.99 514.50 107.79 514.60 108.23 514.70 108.19 514.80 108.88 514.90 106.38 515.00 108.31 515.10 107.08 515.20 106.81 515.30 108.39 515.40 108.50 515.50 109.83 515.60 110.75 515.70 107.21 515.80 108.66 515.90 109.54 516.00 107.36 516.10 107.01 516.20 105.12 516.30 103.27 516.40 104.10 516.50 106.30 516.60 107.07 516.70 106.10 516.80 106.60 516.90 107.01 517.00 105.13 517.10 106.33 517.20 108.03 517.30 108.27 517.40 105.49 517.50 106.51 517.60 103.67 517.70 102.69 517.80 101.46 517.90 104.90 518.00 104.75 518.10 108.31 518.20 107.62 518.30 108.04 518.40 106.71 518.50 109.13 518.60 106.82 518.70 106.37 518.80 103.45 518.90 105.04 519.00 104.42 519.10 102.30 519.20 102.24 519.30 103.24 519.40 105.33 519.50 106.12 519.60 109.14 519.70 108.87 519.80 107.90 519.90 106.89 520.00 103.89 520.10 104.30 520.20 105.04 520.30 104.29 520.40 103.22 520.50 104.19 520.60 101.97 520.70 103.44 520.80 104.08 520.90 103.80 521.00 101.68 521.10 102.40 521.20 102.47 521.30 100.84 521.40 102.50 521.50 101.04 521.60 101.10 521.70 103.33 521.80 102.79 521.90 103.83 522.00 104.02 522.10 105.18 522.20 107.03 522.30 106.76 522.40 103.93 522.50 101.55 522.60 103.09 522.70 102.36 522.80 102.33 522.90 101.78 523.00 103.18 523.10 100.17 523.20 99.57 523.30 96.44 523.40 96.79 523.50 97.48 523.60 98.85 523.70 99.98 523.80 99.77 523.90 102.12 524.00 99.49 524.10 99.49 524.20 98.95 524.30 96.44 524.40 96.92 524.50 95.81 524.60 95.80 524.70 98.71 524.80 97.99 524.90 99.10 525.00 98.39 525.10 97.62 525.20 98.42 525.30 99.09 525.40 99.79 525.50 101.72 525.60 99.69 525.70 100.10 525.80 98.35 525.90 100.08 526.00 97.28 526.10 97.16 526.20 96.46 526.30 98.08 526.40 96.72 526.50 97.11 526.60 94.71 526.70 96.88 526.80 95.47 526.90 94.90 527.00 94.79 527.10 93.58 527.20 93.92 527.30 95.03 527.40 95.08 527.50 94.68 527.60 94.71 527.70 93.98 527.80 95.16 527.90 95.78 528.00 95.36 528.10 97.46 528.20 94.79 528.30 96.38 528.40 97.31 528.50 94.47 528.60 92.49 528.70 94.27 528.80 92.19 528.90 89.44 529.00 90.46 529.10 88.08 529.20 87.04 529.30 87.59 529.40 87.54 529.50 87.24 529.60 88.16 529.70 87.84 529.80 89.52 529.90 90.33 530.00 91.74 530.10 91.38 530.20 91.31 530.30 91.67 530.40 91.47 530.50 91.93 530.60 90.15 530.70 87.65 530.80 87.93 530.90 85.77 531.00 87.53 531.10 86.07 531.20 86.77 531.30 85.96 531.40 84.47 531.50 84.35 531.60 82.42 531.70 82.65 531.80 83.88 531.90 86.91 532.00 84.16 532.10 83.92 532.20 83.23 532.30 85.18 532.40 82.55 532.50 83.14 532.60 84.01 532.70 82.64 532.80 85.59 532.90 85.66 533.00 84.64 533.10 85.15 533.20 84.39 533.30 83.55 533.40 84.47 533.50 83.90 533.60 82.95 533.70 82.54 533.80 81.75 533.90 82.58 534.00 80.92 534.10 82.27 534.20 84.35 534.30 85.24 534.40 84.68 534.50 85.87 534.60 87.51 534.70 87.00 534.80 83.19 534.90 83.31 535.00 83.35 535.10 84.39 535.20 82.70 535.30 84.20 535.40 83.52 535.50 86.10 535.60 84.52 535.70 83.43 535.80 82.30 535.90 82.62 536.00 81.45 536.10 81.21 536.20 83.75 536.30 83.61 536.40 84.22 536.50 83.15 536.60 82.54 536.70 82.54 536.80 82.44 536.90 84.84 537.00 86.13 537.10 86.24 537.20 86.49 537.30 88.62 537.40 86.30 537.50 86.61 537.60 88.74 537.70 88.35 537.80 88.31 537.90 86.90 538.00 86.48 538.10 87.92 538.20 89.64 538.30 89.18 538.40 89.63 538.50 89.20 538.60 89.59 538.70 91.59 538.80 91.63 538.90 90.74 539.00 91.38 539.10 92.41 539.20 93.99 539.30 93.00 539.40 93.73 539.50 91.75 539.60 92.37 539.70 93.70 539.80 93.95 539.90 92.07 540.00 92.10 540.10 93.11 540.20 91.64 540.30 91.11 540.40 91.68 540.50 91.26 540.60 92.96 540.70 93.46 540.80 92.70 540.90 93.61 541.00 94.17 541.10 93.16 541.20 93.50 541.30 95.95 541.40 94.34 541.50 97.38 541.60 97.46 541.70 98.25 541.80 100.23 541.90 101.53 542.00 103.56 542.10 101.90 542.20 101.34 542.30 100.61 542.40 101.86 542.50 102.15 542.60 101.67 542.70 103.40 542.80 104.27 542.90 105.00 543.00 104.74 543.10 106.56 543.20 102.77 543.30 105.58 543.40 105.84 543.50 104.55 543.60 104.78 543.70 104.19 543.80 104.41 543.90 105.39 544.00 103.69 544.10 107.23 544.20 106.69 544.30 109.36 544.40 109.35 544.50 111.07 544.60 110.31 544.70 110.25 544.80 108.79 544.90 107.45 545.00 108.27 545.10 107.82 545.20 109.29 545.30 106.56 545.40 109.23 545.50 111.40 545.60 110.34 545.70 112.30 545.80 113.89 545.90 112.63 546.00 109.92 546.10 111.37 546.20 110.51 546.30 110.30 546.40 110.13 546.50 109.96 546.60 108.05 546.70 107.46 546.80 107.68 546.90 106.83 547.00 109.66 547.10 108.98 547.20 108.40 547.30 111.19 547.40 111.93 547.50 112.21 547.60 112.11 547.70 112.01 547.80 114.88 547.90 113.71 548.00 115.73 548.10 114.61 548.20 113.37 548.30 115.31 548.40 111.36 548.50 112.94 548.60 114.28 548.70 113.75 548.80 114.93 548.90 114.34 549.00 114.21 549.10 117.24 549.20 116.09 549.30 117.15 549.40 117.31 549.50 117.67 549.60 118.28 549.70 117.56 549.80 116.41 549.90 115.58 550.00 117.18 550.10 115.62 550.20 117.43 550.30 118.10 550.40 118.15 550.50 119.24 550.60 118.25 550.70 117.87 550.80 119.96 550.90 118.75 551.00 119.12 551.10 118.25 551.20 119.24 551.30 119.23 551.40 119.78 551.50 120.28 551.60 117.25 551.70 116.99 551.80 116.01 551.90 112.19 552.00 115.00 552.10 117.30 552.20 118.87 552.30 119.00 552.40 122.53 552.50 123.82 552.60 123.46 552.70 126.28 552.80 126.28 552.90 124.28 553.00 122.15 553.10 123.02 553.20 120.27 553.30 119.54 553.40 119.45 553.50 118.33 553.60 119.75 553.70 120.36 553.80 121.63 553.90 121.93 554.00 121.57 554.10 123.00 554.20 124.17 554.30 123.63 554.40 127.24 554.50 125.01 554.60 125.32 554.70 127.51 554.80 127.23 554.90 126.29 555.00 125.86 555.10 126.22 555.20 126.97 555.30 127.45 555.40 127.43 555.50 129.03 555.60 130.34 555.70 130.65 555.80 126.81 555.90 128.82 556.00 128.96 556.10 129.48 556.20 129.82 556.30 130.11 556.40 129.51 556.50 128.52 556.60 129.21 556.70 132.05 556.80 131.28 556.90 133.37 557.00 133.62 557.10 131.65 557.20 128.62 557.30 130.28 557.40 129.75 557.50 129.84 557.60 130.74 557.70 130.06 557.80 129.25 557.90 130.14 558.00 130.18 558.10 130.55 558.20 131.58 558.30 132.69 558.40 133.32 558.50 134.26 558.60 135.45 558.70 135.33 558.80 135.36 558.90 137.42 559.00 135.78 559.10 135.75 559.20 136.02 559.30 136.52 559.40 137.14 559.50 138.04 559.60 137.36 559.70 138.55 559.80 136.72 559.90 137.91 560.00 135.00 560.10 136.02 560.20 138.12 560.30 137.34 560.40 137.12 560.50 138.87 560.60 139.23 560.70 141.89 560.80 141.47 560.90 142.40 561.00 141.08 561.10 140.93 561.20 139.88 561.30 138.01 561.40 139.92 561.50 137.63 561.60 136.00 561.70 136.27 561.80 140.62 561.90 139.98 562.00 140.30 562.10 141.03 562.20 141.32 562.30 143.79 562.40 142.25 562.50 143.24 562.60 140.75 562.70 138.12 562.80 140.31 562.90 140.38 563.00 141.73 563.10 144.59 563.20 144.18 563.30 146.33 563.40 145.56 563.50 145.17 563.60 146.60 563.70 145.90 563.80 147.84 563.90 147.85 564.00 146.74 564.10 146.93 564.20 146.59 564.30 146.74 564.40 149.60 564.50 150.39 564.60 152.95 564.70 152.75 564.80 154.24 564.90 153.96 565.00 152.31 565.10 152.08 565.20 151.41 565.30 152.10 565.40 151.11 565.50 153.10 565.60 155.34 565.70 155.55 565.80 155.03 565.90 157.85 566.00 158.32 566.10 156.47 566.20 157.06 566.30 155.95 566.40 155.43 566.50 155.68 566.60 156.32 566.70 157.41 566.80 157.91 566.90 158.00 567.00 157.59 567.10 156.61 567.20 156.95 567.30 157.50 567.40 155.95 567.50 156.98 567.60 157.22 567.70 158.01 567.80 157.68 567.90 156.89 568.00 155.54 568.10 156.13 568.20 155.59 568.30 155.17 568.40 157.96 568.50 158.25 568.60 162.04 568.70 160.94 568.80 161.84 568.90 163.12 569.00 163.71 569.10 164.68 569.20 166.75 569.30 165.21 569.40 165.40 569.50 165.46 569.60 164.04 569.70 166.92 569.80 166.67 569.90 167.98 570.00 166.71 570.10 167.63 570.20 166.66 570.30 165.20 570.40 167.13 570.50 165.53 570.60 165.02 570.70 165.63 570.80 166.49 570.90 166.90 571.00 166.61 571.10 166.95 571.20 166.65 571.30 163.69 571.40 163.83 571.50 164.15 571.60 165.99 571.70 168.10 571.80 168.18 571.90 166.82 572.00 168.37 572.10 170.68 572.20 170.40 572.30 171.91 572.40 173.38 572.50 171.82 572.60 174.40 572.70 174.25 572.80 174.69 572.90 173.54 573.00 173.85 573.10 173.12 573.20 173.00 573.30 171.96 573.40 171.12 573.50 171.91 573.60 171.63 573.70 169.95 573.80 170.16 573.90 172.43 574.00 170.75 574.10 173.10 574.20 174.38 574.30 173.54 574.40 174.87 574.50 174.98 574.60 173.29 574.70 172.35 574.80 172.02 574.90 172.88 575.00 172.15 575.10 173.58 575.20 174.57 575.30 174.97 575.40 177.91 575.50 173.43 575.60 173.91 575.70 173.96 575.80 171.66 575.90 173.38 576.00 173.41 576.10 170.95 576.20 171.34 576.30 170.18 576.40 172.30 576.50 172.38 576.60 172.23 576.70 172.54 576.80 170.84 576.90 171.23 577.00 171.52 577.10 170.81 577.20 173.05 577.30 173.89 577.40 172.15 577.50 174.66 577.60 173.21 577.70 172.77 577.80 170.91 577.90 171.06 578.00 170.55 578.10 169.26 578.20 170.16 578.30 168.87 578.40 171.86 578.50 169.48 578.60 168.38 578.70 169.09 578.80 168.80 578.90 170.86 579.00 170.37 579.10 172.27 579.20 171.97 579.30 174.60 579.40 172.30 579.50 172.76 579.60 169.28 579.70 169.98 579.80 168.98 579.90 171.12 580.00 171.97 580.10 170.68 580.20 171.85 580.30 171.88 580.40 171.54 580.50 172.21 580.60 172.05 580.70 172.31 580.80 174.39 580.90 175.49 581.00 174.50 581.10 175.88 581.20 176.16 581.30 175.18 581.40 173.13 581.50 172.81 581.60 171.17 581.70 169.45 581.80 167.73 581.90 170.57 582.00 171.22 582.10 170.16 582.20 171.28 582.30 174.49 582.40 173.89 582.50 176.15 582.60 176.01 582.70 174.07 582.80 173.23 582.90 170.20 583.00 170.16 583.10 168.10 583.20 171.20 583.30 169.75 583.40 169.74 583.50 169.58 583.60 171.24 583.70 172.80 583.80 173.89 583.90 174.68 584.00 173.64 584.10 175.46 584.20 174.49 584.30 173.23 584.40 172.59 584.50 173.33 584.60 173.22 584.70 170.37 584.80 172.85 584.90 172.60 585.00 171.54 585.10 172.07 585.20 173.02 585.30 174.58 585.40 173.52 585.50 172.21 585.60 172.85 585.70 170.03 585.80 171.36 585.90 172.03 586.00 171.23 586.10 171.63 586.20 171.35 586.30 172.33 586.40 172.87 586.50 173.05 586.60 174.65 586.70 175.28 586.80 175.37 586.90 174.60 587.00 172.60 587.10 171.00 587.20 171.34 587.30 172.37 587.40 174.33 587.50 173.92 587.60 173.12 587.70 171.89 587.80 172.79 587.90 171.67 588.00 170.78 588.10 170.57 588.20 171.97 588.30 170.29 588.40 171.93 588.50 171.86 588.60 171.50 588.70 172.97 588.80 172.78 588.90 172.86 589.00 173.62 589.10 172.29 589.20 172.81 589.30 171.61 589.40 171.35 589.50 170.87 589.60 166.33 589.70 168.44 589.80 165.55 589.90 166.53 590.00 166.53 590.10 168.36 590.20 171.27 590.30 170.18 590.40 172.72 590.50 173.13 590.60 170.63 590.70 172.05 590.80 170.63 590.90 169.46 591.00 169.25 591.10 172.77 591.20 169.50 591.30 168.22 591.40 168.98" fill="none" stroke="#078807" stroke-width="0.80" stroke-linejoin="miter" stroke-miterlimit="2"/>
<rect x="43.50" y="6.10" width="562.70" height="224.80" fill="none" stroke="#6e6e6e" stroke-width="1.4"/>
<path d="M40.00 230.90H43.50M41.70 222.87H43.50M41.70 214.84H43.50M41.70 206.81H43.50M40.00 198.79H43.50M41.70 190.76H43.50M41.70 182.73H43.50M41.70 174.70H43.50M40.00 166.67H43.50M41.70 158.64H43.50M41.70 150.61H43.50M41.70 142.59H43.50M40.00 134.56H43.50M41.70 126.53H43.50M41.70 118.50H43.50M41.70 110.47H43.50M40.00 102.44H43.50M41.70 94.41H43.50M41.70 86.39H43.50M41.70 78.36H43.50M40.00 70.33H43.50M41.70 62.30H43.50M41.70 54.27H43.50M41.70 46.24H43.50M40.00 38.21H43.50M41.70 30.19H43.50M41.70 22.16H43.50M41.70 14.13H43.50M40.00 6.10H43.50M43.50 230.90V234.40M78.67 230.90V232.70M113.84 230.90V232.70M149.01 230.90V232.70M184.18 230.90V234.40M219.34 230.90V232.70M254.51 230.90V232.70M289.68 230.90V232.70M324.85 230.90V234.40M360.02 230.90V232.70M395.19 230.90V232.70M430.36 230.90V232.70M465.52 230.90V234.40M500.69 230.90V232.70M535.86 230.90V232.70M571.03 230.90V232.70M606.20 230.90V234.40M606.20 6.10H609.70M606.20 24.76H608.00M606.20 43.43H608.00M606.20 62.09H608.00M606.20 80.75H609.70M606.20 99.41H608.00M606.20 118.08H608.00M606.20 136.74H608.00M606.20 155.40H609.70M606.20 174.06H608.00M606.20 192.72H608.00M606.20 211.39H608.00M606.20 230.05H609.70" stroke="#6e6e6e" stroke-width="1.2" fill="none"/>
<text x="38.2" y="235.00" font-size="12" fill="#1e1e1e" text-anchor="end">82</text>
<text x="38.2" y="202.89" font-size="12" fill="#1e1e1e" text-anchor="end">84</text>
<text x="38.2" y="170.77" font-size="12" fill="#1e1e1e" text-anchor="end">86</text>
<text x="38.2" y="138.66" font-size="12" fill="#1e1e1e" text-anchor="end">88</text>
<text x="38.2" y="106.54" font-size="12" fill="#1e1e1e" text-anchor="end">90</text>
<text x="38.2" y="74.43" font-size="12" fill="#1e1e1e" text-anchor="end">92</text>
<text x="38.2" y="42.31" font-size="12" fill="#1e1e1e" text-anchor="end">94</text>
<text x="38.2" y="10.20" font-size="12" fill="#1e1e1e" text-anchor="end">96</text>
<text x="613.7" y="10.20" font-size="12" fill="#1e1e1e">0,04</text>
<text x="613.7" y="84.85" font-size="12" fill="#1e1e1e">0,02</text>
<text x="613.7" y="159.50" font-size="12" fill="#1e1e1e">0,00</text>
<text x="44.80" y="247.6" font-size="12" fill="#1e1e1e" text-anchor="middle">100</text>
<text x="129.21" y="247.6" font-size="12" fill="#1e1e1e" text-anchor="middle">220</text>
<text x="185.48" y="247.6" font-size="12" fill="#1e1e1e" text-anchor="middle">300</text>
<text x="234.71" y="247.6" font-size="12" fill="#1e1e1e" text-anchor="middle">370</text>
<text x="326.15" y="247.6" font-size="12" fill="#1e1e1e" text-anchor="middle">500</text>
<text x="375.39" y="247.6" font-size="12" fill="#1e1e1e" text-anchor="middle">570</text>
<text x="466.82" y="247.6" font-size="12" fill="#1e1e1e" text-anchor="middle">700</text>
<text x="551.23" y="247.6" font-size="12" fill="#1e1e1e" text-anchor="middle">820</text>
<text x="607.50" y="247.6" font-size="12" fill="#1e1e1e" text-anchor="middle">900</text>
<text x="271" y="269" font-size="12" fill="#1e1e1e">Temperature</text>
<text x="343.2" y="268.6" font-size="10" font-style="italic" fill="#1e1e1e">T</text>
<text x="353.7" y="269" font-size="12" fill="#1e1e1e">(°C)</text>
<text transform="translate(13.4 148.35) rotate(-90)" font-size="12.25" fill="#2020b0">Weight (%)</text>
</svg></body></html>
